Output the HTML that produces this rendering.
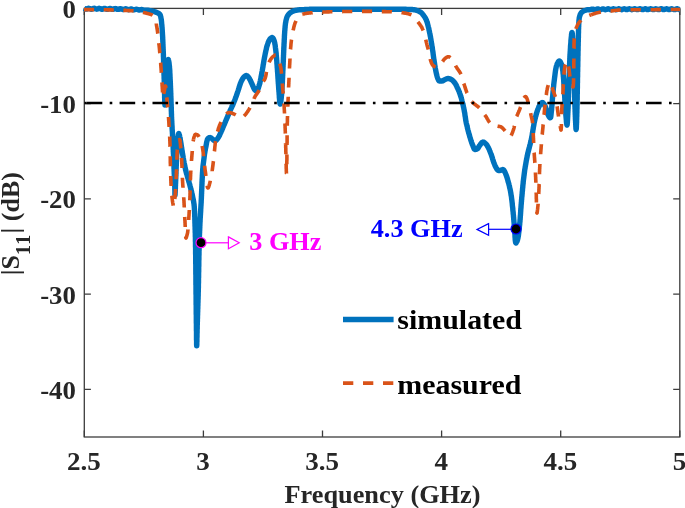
<!DOCTYPE html><html><head><meta charset="utf-8"><title>S11</title><style>html,body{margin:0;padding:0;background:#fff}svg{display:block}</style></head><body><svg width="685" height="508" viewBox="0 0 685 508">
<rect width="685" height="508" fill="#fff"/>
<g stroke="#3c3c3c" stroke-width="1.3" fill="none">
<rect x="84.3" y="8.4" width="595.5" height="428.6"/>
<path d="M84.3 437.0v-6.6M84.3 8.4v6.6"/>
<path d="M203.4 437.0v-6.6M203.4 8.4v6.6"/>
<path d="M322.5 437.0v-6.6M322.5 8.4v6.6"/>
<path d="M441.6 437.0v-6.6M441.6 8.4v6.6"/>
<path d="M560.7 437.0v-6.6M560.7 8.4v6.6"/>
<path d="M679.8 437.0v-6.6M679.8 8.4v6.6"/>
<path d="M84.3 8.4h6.6M679.8 8.4h-6.6"/>
<path d="M84.3 103.6h6.6M679.8 103.6h-6.6"/>
<path d="M84.3 198.9h6.6M679.8 198.9h-6.6"/>
<path d="M84.3 294.1h6.6M679.8 294.1h-6.6"/>
<path d="M84.3 389.4h6.6M679.8 389.4h-6.6"/>
</g>
<g font-family="'Liberation Serif',serif" font-weight="bold" font-size="26" fill="#262626">
<text transform="translate(83.9 470.2) scale(1.04 1)" text-anchor="middle">2.5</text>
<text transform="translate(203.0 470.2) scale(1.04 1)" text-anchor="middle">3</text>
<text transform="translate(322.1 470.2) scale(1.04 1)" text-anchor="middle">3.5</text>
<text transform="translate(441.2 470.2) scale(1.04 1)" text-anchor="middle">4</text>
<text transform="translate(560.3 470.2) scale(1.04 1)" text-anchor="middle">4.5</text>
<text transform="translate(679.4 470.2) scale(1.04 1)" text-anchor="middle">5</text>
<text transform="translate(75.9 17.5) scale(1.032 1)" text-anchor="end">0</text>
<text transform="translate(75.9 113.0) scale(1.032 1)" text-anchor="end">-10</text>
<text transform="translate(75.9 208.3) scale(1.032 1)" text-anchor="end">-20</text>
<text transform="translate(75.9 303.5) scale(1.032 1)" text-anchor="end">-30</text>
<text transform="translate(75.9 398.8) scale(1.032 1)" text-anchor="end">-40</text>
<text transform="translate(382.5 502.6) scale(1.012 1)" text-anchor="middle">Frequency (GHz)</text>
<text transform="translate(18.7 275.3) rotate(-90)">|S<tspan font-size="20" dy="11.3" letter-spacing="1.4">11</tspan><tspan dy="-11.3">| (dB)</tspan></text>
</g>
<path d="M84.0 8.3L84.8 8.7L85.6 9.1L86.4 9.1L87.2 8.8L88.0 8.4L88.8 8.3L89.6 8.5L90.4 8.9L91.2 9.2L92.0 9.1L92.8 8.7L93.6 8.4L94.4 8.3L95.2 8.6L96.0 9.0L96.8 9.2L97.6 9.0L98.4 8.6L99.2 8.3L100.0 8.5L100.8 8.9L101.6 9.2L102.4 9.2L103.2 8.9L104.0 8.5L104.8 8.4L105.6 8.6L106.4 9.1L107.2 9.3L108.0 9.2L108.8 8.8L109.6 8.5L110.4 8.5L111.2 8.9L112.0 9.3L112.8 9.4L113.6 9.1L114.4 8.7L115.2 8.5L116.0 8.7L116.8 9.1L117.6 9.4L118.4 9.4L119.2 9.1L120.0 8.7L120.8 8.7L121.6 9.0L122.4 9.4L123.2 9.6L124.0 9.4L124.8 9.1L125.6 8.8L126.4 8.9L127.2 9.3L128.0 9.6L128.8 9.7L129.6 9.5L130.4 9.1L131.2 8.9L132.0 9.2L132.8 9.6L133.6 9.9L134.4 9.8L135.2 9.5L136.0 9.2L136.8 9.2L137.6 9.5L138.4 9.9L139.2 10.1L140.0 9.9L140.8 9.6L141.6 9.5L142.4 9.6L143.2 10.0L144.0 10.2L144.8 10.2L145.6 10.1L146.4 10.1L147.2 10.2L148.0 10.3L148.8 10.4L149.6 10.6L150.4 10.7L151.1 10.8L151.9 11.0L152.7 11.2L153.5 11.4L154.3 11.6L155.0 11.8L155.8 12.1L156.5 12.4L157.3 12.7L158.0 13.0L158.7 13.4L159.3 13.9L159.9 14.5L160.3 15.2L160.5 15.9L160.7 16.7L160.9 17.5L161.0 18.3L161.2 19.1L161.3 19.9L161.4 20.7L161.5 21.5L161.6 22.3L161.6 23.1L161.7 23.8L161.8 24.6L161.9 25.4L161.9 26.2L162.0 27.0L162.1 27.8L162.1 28.6L162.2 29.4L162.2 30.2L162.3 31.0L162.3 31.8L162.4 32.6L162.4 33.4L162.5 34.2L162.5 35.0L162.6 35.8L162.6 36.6L162.7 37.4L162.7 38.2L162.7 39.0L162.8 39.8L162.8 40.6L162.8 41.4L162.9 42.2L162.9 43.0L162.9 43.8L163.0 44.6L163.0 45.4L163.0 46.2L163.1 47.0L163.1 47.8L163.1 48.6L163.2 49.4L163.2 50.2L163.2 51.0L163.3 51.8L163.3 52.6L163.3 53.4L163.4 54.2L163.4 55.0L163.4 55.8L163.4 56.6L163.5 57.4L163.5 58.2L163.5 59.0L163.6 59.8L163.6 60.6L163.6 61.4L163.6 62.2L163.7 63.0L163.7 63.8L163.7 64.6L163.7 65.4L163.8 66.2L163.8 67.0L163.8 67.8L163.8 68.6L163.9 69.4L163.9 70.2L163.9 71.0L163.9 71.8L164.0 72.6L164.0 73.4L164.0 74.2L164.0 75.0L164.1 75.8L164.1 76.6L164.1 77.4L164.1 78.2L164.2 79.0L164.2 79.8L164.2 80.6L164.2 81.5L164.3 82.4L164.3 83.3L164.3 84.3L164.3 85.3L164.4 86.3L164.4 87.4L164.4 88.4L164.4 89.5L164.5 90.5L164.5 91.6L164.5 92.7L164.5 93.7L164.6 94.7L164.6 95.8L164.6 96.7L164.6 97.7L164.7 98.6L164.7 99.5L164.7 100.3L164.7 101.1L164.8 101.8L164.8 102.5L164.8 103.1L164.8 103.6L164.9 104.0L164.9 104.4L164.9 104.7L165.0 104.9L165.0 105.0L165.0 105.0L165.0 104.9L165.1 104.6L165.1 104.3L165.2 103.8L165.2 103.3L165.2 102.7L165.3 101.9L165.3 101.2L165.3 100.3L165.4 99.4L165.4 98.5L165.5 97.5L165.5 96.5L165.5 95.5L165.6 94.4L165.6 93.3L165.7 92.3L165.7 91.2L165.8 90.2L165.8 89.2L165.8 88.2L165.9 87.2L165.9 86.3L166.0 85.4L166.0 84.6L166.1 83.8L166.1 83.0L166.1 82.2L166.2 81.4L166.2 80.6L166.3 79.8L166.3 79.0L166.3 78.2L166.4 77.4L166.4 76.6L166.4 75.8L166.5 75.0L166.5 74.2L166.6 73.4L166.6 72.6L166.7 71.8L166.7 71.0L166.8 70.2L166.8 69.4L166.9 68.6L166.9 67.8L167.0 67.0L167.1 66.2L167.2 65.4L167.2 64.6L167.3 63.7L167.5 62.6L167.6 61.6L167.8 60.7L168.0 60.0L168.1 59.6L168.3 59.5L168.4 59.9L168.6 60.6L168.8 61.5L169.0 62.5L169.1 63.6L169.2 64.5L169.3 65.3L169.4 66.1L169.5 66.9L169.5 67.7L169.6 68.5L169.7 69.3L169.7 70.1L169.8 70.9L169.8 71.7L169.8 72.5L169.9 73.3L169.9 74.1L170.0 74.9L170.0 75.7L170.0 76.5L170.1 77.3L170.1 78.1L170.1 78.9L170.2 79.7L170.2 80.5L170.3 81.3L170.3 82.1L170.3 82.9L170.4 83.7L170.4 84.5L170.4 85.3L170.5 86.1L170.5 86.9L170.5 87.7L170.6 88.5L170.6 89.3L170.6 90.1L170.7 90.9L170.7 91.7L170.7 92.5L170.8 93.3L170.8 94.1L170.8 94.9L170.8 95.7L170.9 96.5L170.9 97.3L170.9 98.1L171.0 98.9L171.0 99.7L171.0 100.5L171.0 101.3L171.1 102.1L171.1 102.9L171.1 103.7L171.2 104.5L171.2 105.3L171.2 106.1L171.2 106.9L171.3 107.7L171.3 108.5L171.3 109.3L171.3 110.1L171.3 110.9L171.4 111.7L171.4 112.5L171.4 113.3L171.5 114.1L171.5 114.9L171.5 115.7L171.5 116.5L171.6 117.3L171.6 118.1L171.6 118.9L171.7 119.7L171.7 120.5L171.8 121.3L171.8 122.1L171.8 122.9L171.9 123.7L171.9 124.5L172.0 125.3L172.0 126.1L172.1 126.9L172.1 127.7L172.1 128.5L172.2 129.3L172.2 130.1L172.3 130.9L172.3 131.7L172.4 132.5L172.4 133.3L172.5 134.1L172.5 134.9L172.5 135.7L172.6 136.5L172.6 137.3L172.7 138.1L172.7 138.9L172.7 139.7L172.8 140.5L172.8 141.3L172.9 142.1L172.9 142.9L173.0 143.7L173.0 144.5L173.0 145.3L173.1 146.1L173.1 146.9L173.2 147.7L173.2 148.5L173.2 149.3L173.3 150.1L173.3 150.9L173.3 151.7L173.4 152.5L173.4 153.3L173.5 154.1L173.5 154.9L173.5 155.7L173.6 156.5L173.6 157.3L173.6 158.1L173.7 158.9L173.7 159.7L173.7 160.5L173.8 161.3L173.8 162.1L173.8 162.9L173.9 163.7L173.9 164.5L173.9 165.3L174.0 166.1L174.0 166.9L174.0 167.7L174.0 168.5L174.1 169.3L174.1 170.1L174.1 170.9L174.2 171.7L174.2 172.5L174.2 173.3L174.3 174.1L174.3 174.9L174.3 175.7L174.4 176.5L174.4 177.3L174.4 178.1L174.5 178.9L174.5 179.7L174.5 180.5L174.6 181.3L174.6 182.1L174.6 182.9L174.6 183.7L174.7 184.5L174.7 185.3L174.7 186.1L174.8 186.9L174.8 187.7L174.8 188.5L174.8 189.4L174.9 190.5L174.9 191.5L174.9 192.6L174.9 193.5L174.9 194.2L175.0 194.8L175.0 195.0L175.0 194.9L175.1 194.6L175.1 194.1L175.1 193.4L175.2 192.6L175.2 191.7L175.3 190.7L175.3 189.6L175.4 188.6L175.4 187.5L175.4 186.5L175.5 185.6L175.5 184.8L175.5 184.0L175.6 183.2L175.6 182.4L175.6 181.6L175.7 180.8L175.7 180.0L175.7 179.2L175.8 178.4L175.8 177.6L175.8 176.8L175.9 176.0L175.9 175.2L175.9 174.4L176.0 173.6L176.0 172.8L176.0 172.0L176.0 171.2L176.1 170.4L176.1 169.6L176.1 168.8L176.2 168.0L176.2 167.2L176.2 166.4L176.3 165.6L176.3 164.8L176.3 164.0L176.4 163.2L176.4 162.4L176.4 161.6L176.5 160.8L176.5 160.0L176.5 159.2L176.6 158.4L176.6 157.6L176.6 156.8L176.7 156.0L176.7 155.2L176.8 154.4L176.8 153.6L176.8 152.8L176.9 152.0L176.9 151.2L176.9 150.4L177.0 149.6L177.0 148.8L177.1 148.0L177.1 147.2L177.2 146.4L177.2 145.6L177.3 144.8L177.3 144.0L177.4 143.2L177.5 142.4L177.5 141.6L177.6 140.7L177.7 139.7L177.8 138.6L177.9 137.6L178.0 136.5L178.2 135.6L178.3 134.8L178.5 134.2L178.6 133.7L178.8 133.5L178.9 133.6L179.1 134.2L179.4 135.0L179.6 136.0L179.8 137.1L180.0 138.0L180.2 138.7L180.3 139.5L180.4 140.3L180.6 141.1L180.7 141.9L180.8 142.7L181.0 143.5L181.1 144.3L181.2 145.1L181.3 145.8L181.4 146.6L181.6 147.4L181.7 148.2L181.8 149.0L181.9 149.8L182.1 150.6L182.2 151.4L182.3 152.2L182.4 153.0L182.6 153.8L182.7 154.5L182.8 155.3L183.0 156.1L183.1 156.9L183.2 157.7L183.4 158.5L183.5 159.3L183.6 160.1L183.8 160.9L183.9 161.6L184.1 162.4L184.2 163.2L184.4 164.0L184.6 164.8L184.7 165.6L184.9 166.3L185.0 167.1L185.2 167.9L185.4 168.7L185.5 169.5L185.7 170.3L185.9 171.0L186.1 171.8L186.3 172.6L186.5 173.4L186.7 174.1L187.0 174.9L187.2 175.7L187.4 176.4L187.6 177.2L187.9 178.0L188.1 178.7L188.3 179.5L188.5 180.3L188.7 181.1L188.9 181.8L189.2 182.6L189.4 183.4L189.6 184.1L189.8 184.9L190.0 185.7L190.2 186.5L190.4 187.2L190.6 188.0L190.8 188.8L191.0 189.6L191.2 190.3L191.4 191.1L191.6 191.9L191.8 192.7L192.0 193.4L192.1 194.2L192.3 195.0L192.5 195.8L192.6 196.6L192.8 197.4L192.9 198.1L193.1 198.9L193.3 199.7L193.4 200.5L193.6 201.3L193.7 202.1L193.8 202.9L193.9 203.7L194.1 204.5L194.1 205.3L194.2 206.0L194.3 206.8L194.3 207.6L194.4 208.4L194.4 209.2L194.5 210.0L194.5 210.8L194.6 211.6L194.6 212.4L194.6 213.2L194.7 214.0L194.7 214.8L194.7 215.6L194.7 216.4L194.8 217.2L194.8 218.0L194.8 218.8L194.8 219.6L194.9 220.4L194.9 221.2L194.9 222.0L194.9 222.8L195.0 223.6L195.0 224.4L195.0 225.2L195.0 226.0L195.1 226.8L195.1 227.6L195.1 228.4L195.1 229.2L195.2 230.0L195.2 230.8L195.2 231.6L195.2 232.4L195.3 233.2L195.3 234.0L195.3 234.8L195.3 235.6L195.3 236.4L195.4 237.2L195.4 238.0L195.4 238.8L195.4 239.6L195.4 240.4L195.4 241.2L195.5 242.0L195.5 242.8L195.5 243.6L195.5 244.4L195.5 245.2L195.5 246.0L195.5 246.8L195.6 247.6L195.6 248.4L195.6 249.2L195.6 250.0L195.6 250.8L195.6 251.6L195.6 252.4L195.6 253.2L195.6 254.0L195.7 254.8L195.7 255.6L195.7 256.4L195.7 257.2L195.7 258.0L195.7 258.8L195.7 259.6L195.7 260.4L195.7 261.2L195.7 262.0L195.7 262.8L195.7 263.6L195.8 264.4L195.8 265.2L195.8 266.0L195.8 266.8L195.8 267.6L195.8 268.4L195.8 269.2L195.8 270.0L195.8 270.8L195.8 271.6L195.8 272.4L195.8 273.2L195.8 274.0L195.9 274.8L195.9 275.6L195.9 276.4L195.9 277.2L195.9 278.0L195.9 278.8L195.9 279.6L195.9 280.4L195.9 281.2L195.9 282.0L195.9 282.8L195.9 283.6L195.9 284.4L196.0 285.2L196.0 286.0L196.0 286.8L196.0 287.6L196.0 288.4L196.0 289.2L196.0 290.0L196.0 290.8L196.0 291.6L196.0 292.4L196.0 293.2L196.0 294.0L196.1 294.8L196.1 295.6L196.1 296.4L196.1 297.2L196.1 298.0L196.1 298.8L196.1 299.6L196.1 300.4L196.1 301.2L196.1 302.0L196.1 302.8L196.1 303.6L196.1 304.4L196.2 305.2L196.2 306.0L196.2 306.8L196.2 307.6L196.2 308.4L196.2 309.2L196.2 310.0L196.2 310.8L196.2 311.6L196.2 312.4L196.2 313.2L196.2 314.0L196.3 314.8L196.3 315.6L196.3 316.4L196.3 317.2L196.3 318.0L196.3 318.8L196.3 319.6L196.3 320.4L196.3 321.2L196.3 322.0L196.3 322.8L196.4 323.6L196.4 324.4L196.4 325.2L196.4 326.0L196.4 326.8L196.4 327.7L196.4 328.6L196.4 329.5L196.4 330.5L196.5 331.5L196.5 332.5L196.5 333.6L196.5 334.6L196.5 335.7L196.5 336.8L196.5 337.8L196.5 338.8L196.5 339.8L196.6 340.7L196.6 341.6L196.6 342.4L196.6 343.2L196.6 343.8L196.6 344.4L196.6 344.9L196.7 345.3L196.7 345.5L196.7 345.7L196.7 345.7L196.7 345.6L196.7 345.3L196.8 345.0L196.8 344.5L196.8 343.9L196.8 343.3L196.8 342.5L196.9 341.7L196.9 340.8L196.9 339.9L196.9 338.9L196.9 337.9L197.0 336.9L197.0 335.8L197.0 334.8L197.0 333.7L197.1 332.7L197.1 331.6L197.1 330.6L197.1 329.6L197.2 328.7L197.2 327.8L197.2 327.0L197.2 326.2L197.2 325.4L197.3 324.6L197.3 323.8L197.3 323.0L197.3 322.2L197.4 321.4L197.4 320.6L197.4 319.8L197.4 319.0L197.5 318.2L197.5 317.4L197.5 316.6L197.5 315.8L197.6 315.0L197.6 314.2L197.6 313.4L197.6 312.6L197.7 311.8L197.7 311.0L197.7 310.2L197.7 309.4L197.8 308.6L197.8 307.8L197.8 307.0L197.8 306.2L197.9 305.4L197.9 304.6L197.9 303.8L197.9 303.0L198.0 302.2L198.0 301.4L198.0 300.6L198.0 299.8L198.1 299.0L198.1 298.2L198.1 297.4L198.1 296.6L198.2 295.8L198.2 295.0L198.2 294.2L198.2 293.4L198.2 292.6L198.3 291.8L198.3 291.0L198.3 290.2L198.3 289.4L198.3 288.6L198.4 287.8L198.4 287.0L198.4 286.2L198.4 285.4L198.4 284.6L198.4 283.8L198.5 283.0L198.5 282.2L198.5 281.4L198.5 280.6L198.5 279.8L198.5 279.0L198.5 278.2L198.6 277.4L198.6 276.6L198.6 275.8L198.6 275.0L198.6 274.2L198.6 273.4L198.6 272.6L198.7 271.8L198.7 271.0L198.7 270.2L198.7 269.4L198.7 268.6L198.7 267.8L198.7 267.0L198.8 266.2L198.8 265.4L198.8 264.6L198.8 263.8L198.8 263.0L198.8 262.2L198.8 261.4L198.8 260.6L198.9 259.8L198.9 259.0L198.9 258.2L198.9 257.4L198.9 256.6L198.9 255.8L199.0 255.0L199.0 254.2L199.0 253.4L199.0 252.6L199.0 251.8L199.0 251.0L199.1 250.2L199.1 249.4L199.1 248.6L199.1 247.8L199.1 247.0L199.1 246.2L199.2 245.4L199.2 244.6L199.2 243.8L199.2 243.0L199.2 242.2L199.3 241.4L199.3 240.6L199.3 239.8L199.3 239.0L199.4 238.2L199.4 237.4L199.4 236.6L199.4 235.8L199.5 235.0L199.5 234.2L199.5 233.4L199.6 232.6L199.6 231.8L199.6 231.0L199.7 230.2L199.7 229.4L199.7 228.6L199.8 227.8L199.8 227.0L199.8 226.2L199.9 225.4L199.9 224.6L199.9 223.8L200.0 223.0L200.0 222.2L200.1 221.4L200.1 220.6L200.1 219.8L200.2 219.0L200.2 218.2L200.3 217.4L200.3 216.6L200.4 215.8L200.4 215.0L200.5 214.2L200.5 213.4L200.6 212.6L200.6 211.8L200.7 211.0L200.7 210.2L200.7 209.4L200.8 208.6L200.8 207.8L200.9 207.0L200.9 206.2L201.0 205.4L201.0 204.6L201.1 203.8L201.1 203.0L201.2 202.2L201.2 201.4L201.2 200.6L201.3 199.8L201.3 199.0L201.4 198.2L201.4 197.4L201.4 196.6L201.5 195.8L201.5 195.0L201.5 194.2L201.6 193.4L201.6 192.6L201.6 191.8L201.7 191.0L201.7 190.2L201.7 189.4L201.8 188.6L201.8 187.8L201.8 187.0L201.9 186.2L201.9 185.4L201.9 184.6L202.0 183.8L202.0 183.0L202.0 182.2L202.1 181.4L202.1 180.6L202.1 179.8L202.2 179.0L202.2 178.2L202.3 177.4L202.3 176.6L202.3 175.8L202.4 175.0L202.4 174.2L202.5 173.4L202.5 172.6L202.6 171.8L202.6 171.0L202.7 170.2L202.7 169.4L202.8 168.6L202.9 167.8L202.9 167.0L203.0 166.2L203.1 165.4L203.2 164.6L203.3 163.8L203.4 163.1L203.5 162.3L203.6 161.5L203.7 160.7L203.8 159.9L203.9 159.1L204.0 158.3L204.1 157.5L204.2 156.7L204.3 155.9L204.4 155.1L204.5 154.3L204.6 153.5L204.8 152.7L204.9 151.9L205.0 151.2L205.2 150.4L205.3 149.6L205.4 148.8L205.6 148.0L205.8 147.2L205.9 146.4L206.1 145.7L206.2 144.8L206.4 144.0L206.5 143.1L206.7 142.2L206.9 141.4L207.1 140.6L207.3 139.8L207.6 139.2L207.9 138.6L208.4 138.1L209.2 137.7L210.0 137.5L210.6 137.7L211.3 138.1L212.0 138.6L212.6 139.2L213.3 139.7L213.9 140.4L214.6 140.9L215.2 141.0L215.8 140.7L216.4 140.1L217.0 139.4L217.5 138.7L218.0 138.0L218.4 137.3L218.8 136.7L219.2 136.0L219.6 135.2L219.9 134.5L220.2 133.8L220.5 133.0L220.9 132.3L221.2 131.5L221.5 130.8L221.9 130.1L222.2 129.3L222.5 128.6L222.8 127.9L223.1 127.1L223.4 126.4L223.7 125.7L224.0 124.9L224.4 124.2L224.7 123.4L225.0 122.7L225.3 122.0L225.6 121.2L225.9 120.5L226.2 119.8L226.6 119.0L226.9 118.3L227.2 117.6L227.5 116.8L227.8 116.1L228.1 115.4L228.4 114.6L228.8 113.9L229.1 113.1L229.4 112.4L229.7 111.7L230.0 110.9L230.3 110.2L230.7 109.5L231.0 108.8L231.3 108.0L231.7 107.3L232.0 106.6L232.3 105.8L232.7 105.1L233.0 104.4L233.3 103.6L233.6 102.9L233.9 102.2L234.2 101.4L234.5 100.7L234.8 99.9L235.1 99.2L235.4 98.4L235.6 97.7L235.9 96.9L236.2 96.2L236.5 95.4L236.7 94.7L237.0 93.9L237.2 93.2L237.5 92.4L237.8 91.6L238.0 90.9L238.3 90.1L238.5 89.4L238.8 88.6L239.0 87.8L239.2 87.1L239.5 86.3L239.7 85.5L240.0 84.7L240.2 84.0L240.5 83.2L240.8 82.5L241.1 81.8L241.4 81.1L241.8 80.3L242.2 79.6L242.6 78.9L243.0 78.2L243.5 77.6L244.0 77.0L244.6 76.4L245.3 75.9L246.0 75.5L246.7 75.6L247.3 76.0L247.9 76.6L248.5 77.3L249.0 78.0L249.4 78.6L249.8 79.3L250.2 80.0L250.5 80.7L250.9 81.5L251.2 82.2L251.5 83.0L251.9 83.7L252.2 84.4L252.5 85.2L252.9 86.0L253.2 86.7L253.5 87.5L253.8 88.2L254.2 88.9L254.6 89.6L255.1 90.1L255.8 90.7L256.5 91.0L256.9 90.8L257.4 90.3L257.8 89.6L258.1 88.7L258.4 87.8L258.7 86.9L259.0 86.0L259.2 85.3L259.4 84.5L259.7 83.8L259.9 83.0L260.0 82.2L260.2 81.4L260.4 80.7L260.5 79.9L260.7 79.1L260.9 78.3L261.0 77.5L261.1 76.7L261.3 75.9L261.4 75.1L261.6 74.3L261.7 73.5L261.9 72.7L262.0 71.9L262.2 71.2L262.3 70.4L262.4 69.6L262.6 68.8L262.7 68.0L262.9 67.2L263.0 66.4L263.1 65.6L263.2 64.8L263.4 64.1L263.5 63.3L263.6 62.5L263.8 61.7L263.9 60.9L264.0 60.1L264.2 59.3L264.3 58.5L264.5 57.7L264.6 57.0L264.8 56.2L264.9 55.4L265.1 54.6L265.2 53.8L265.4 53.0L265.6 52.2L265.7 51.5L265.9 50.7L266.1 49.9L266.3 49.1L266.4 48.3L266.6 47.5L266.8 46.7L267.0 46.0L267.3 45.2L267.5 44.5L267.7 43.7L268.0 43.0L268.3 42.2L268.6 41.5L269.0 40.7L269.4 40.0L269.8 39.3L270.3 38.7L270.9 38.1L271.6 37.6L272.2 37.5L272.9 38.1L273.4 38.8L273.7 39.5L274.0 40.2L274.2 40.9L274.4 41.6L274.6 42.4L274.8 43.2L274.9 44.1L275.1 44.9L275.2 45.7L275.3 46.5L275.4 47.4L275.5 48.1L275.6 48.9L275.7 49.7L275.8 50.5L275.9 51.3L276.0 52.1L276.1 52.9L276.2 53.7L276.2 54.5L276.3 55.3L276.4 56.1L276.4 56.9L276.5 57.7L276.6 58.5L276.6 59.3L276.7 60.1L276.8 60.9L276.8 61.7L276.9 62.5L276.9 63.3L277.0 64.1L277.1 64.9L277.1 65.7L277.2 66.5L277.2 67.3L277.3 68.1L277.4 68.9L277.4 69.7L277.5 70.5L277.5 71.3L277.6 72.1L277.7 72.9L277.7 73.7L277.8 74.5L277.8 75.3L277.9 76.1L277.9 76.9L278.0 77.7L278.0 78.4L278.1 79.2L278.1 80.0L278.2 80.8L278.2 81.6L278.3 82.4L278.3 83.2L278.4 84.0L278.5 84.8L278.5 85.6L278.6 86.4L278.6 87.2L278.7 88.0L278.7 88.8L278.8 89.6L278.9 90.4L278.9 91.2L279.0 92.0L279.1 92.9L279.1 93.8L279.2 94.8L279.3 95.8L279.3 96.9L279.4 97.9L279.5 99.0L279.6 100.0L279.6 100.9L279.7 101.8L279.8 102.5L279.9 103.1L280.0 103.6L280.1 103.9L280.2 104.0L280.3 103.7L280.5 103.1L280.7 102.1L280.9 101.1L281.0 100.1L281.1 99.3L281.2 98.5L281.3 97.7L281.3 96.9L281.4 96.1L281.5 95.3L281.6 94.6L281.6 93.8L281.7 93.0L281.7 92.2L281.8 91.4L281.8 90.6L281.9 89.8L281.9 89.0L282.0 88.2L282.0 87.4L282.1 86.6L282.1 85.8L282.2 85.0L282.2 84.2L282.3 83.4L282.3 82.6L282.4 81.8L282.4 81.0L282.4 80.2L282.5 79.4L282.5 78.6L282.6 77.8L282.6 77.0L282.6 76.2L282.7 75.4L282.7 74.6L282.7 73.8L282.8 73.0L282.8 72.2L282.8 71.4L282.9 70.6L282.9 69.8L283.0 69.0L283.0 68.2L283.0 67.4L283.1 66.6L283.1 65.8L283.1 65.0L283.2 64.2L283.2 63.4L283.2 62.6L283.3 61.8L283.3 61.0L283.3 60.2L283.4 59.4L283.4 58.6L283.4 57.8L283.5 57.0L283.5 56.2L283.5 55.4L283.6 54.6L283.6 53.8L283.6 53.0L283.7 52.2L283.7 51.4L283.7 50.6L283.8 49.8L283.8 49.0L283.8 48.2L283.9 47.4L283.9 46.6L284.0 45.8L284.0 45.0L284.0 44.2L284.1 43.4L284.1 42.6L284.2 41.8L284.2 41.0L284.2 40.2L284.3 39.4L284.3 38.6L284.4 37.8L284.4 37.0L284.4 36.2L284.5 35.4L284.5 34.6L284.6 33.8L284.6 33.0L284.7 32.2L284.7 31.4L284.8 30.6L284.9 29.8L284.9 29.0L285.0 28.2L285.1 27.4L285.1 26.6L285.2 25.8L285.3 25.0L285.4 24.2L285.5 23.4L285.6 22.6L285.8 21.8L285.9 21.0L286.1 20.2L286.3 19.4L286.5 18.6L286.7 17.9L286.9 17.2L287.2 16.5L287.6 15.8L288.1 15.1L288.6 14.4L289.1 13.8L289.7 13.2L290.3 12.8L290.9 12.3L291.6 11.9L292.3 11.5L293.1 11.1L293.9 10.8L294.6 10.6L295.4 10.4L296.2 10.3L297.0 10.1L297.8 10.0L298.6 9.9L299.4 9.8L300.2 9.8L301.0 9.7L301.8 9.7L302.6 9.6L303.4 9.6L304.1 9.6L304.9 9.5L305.7 9.5L306.6 9.4L307.4 9.4L308.2 9.4L309.0 9.4L309.8 9.3L310.6 9.3L311.4 9.3L312.2 9.3L313.0 9.3L313.8 9.3L314.6 9.3L315.4 9.3L316.2 9.3L317.0 9.3L317.8 9.3L318.6 9.3L319.4 9.3L320.2 9.3L321.0 9.3L321.8 9.3L322.6 9.3L323.4 9.3L324.2 9.3L325.0 9.3L325.8 9.3L326.6 9.3L327.4 9.3L328.2 9.3L329.0 9.3L329.8 9.3L330.6 9.3L331.4 9.3L332.2 9.3L333.0 9.3L333.8 9.3L334.6 9.3L335.4 9.3L336.2 9.3L337.0 9.3L337.8 9.3L338.6 9.3L339.4 9.3L340.2 9.3L341.0 9.3L341.8 9.3L342.6 9.3L343.4 9.3L344.2 9.3L345.0 9.3L345.8 9.3L346.6 9.3L347.4 9.3L348.2 9.3L349.0 9.3L349.8 9.3L350.6 9.3L351.4 9.3L352.2 9.3L353.0 9.3L353.8 9.3L354.6 9.3L355.4 9.3L356.2 9.3L357.0 9.3L357.8 9.3L358.6 9.3L359.4 9.3L360.2 9.3L361.0 9.3L361.8 9.3L362.6 9.3L363.4 9.3L364.2 9.3L365.0 9.3L365.8 9.3L366.6 9.3L367.4 9.3L368.2 9.3L369.0 9.3L369.8 9.3L370.6 9.3L371.4 9.3L372.2 9.3L373.0 9.3L373.8 9.3L374.6 9.3L375.4 9.3L376.2 9.3L377.0 9.3L377.8 9.3L378.6 9.3L379.4 9.3L380.2 9.3L381.0 9.3L381.8 9.3L382.6 9.3L383.4 9.3L384.2 9.3L385.0 9.3L385.8 9.3L386.6 9.3L387.4 9.3L388.2 9.3L389.0 9.3L389.8 9.3L390.6 9.3L391.4 9.3L392.2 9.3L393.0 9.3L393.8 9.3L394.6 9.3L395.4 9.3L396.2 9.3L397.0 9.3L397.8 9.3L398.6 9.3L399.4 9.3L400.2 9.3L401.0 9.3L401.8 9.3L402.6 9.3L403.4 9.3L404.2 9.3L405.0 9.3L405.8 9.3L406.6 9.4L407.4 9.4L408.2 9.4L409.0 9.4L409.8 9.4L410.6 9.5L411.4 9.5L412.2 9.5L413.0 9.6L413.8 9.7L414.6 9.9L415.4 10.0L416.1 10.2L416.9 10.5L417.6 10.7L418.4 11.0L419.1 11.4L419.9 11.8L420.5 12.2L421.2 12.6L421.7 13.1L422.3 13.7L422.8 14.4L423.3 15.0L423.8 15.7L424.2 16.3L424.7 17.0L425.1 17.7L425.5 18.4L425.9 19.1L426.2 19.8L426.5 20.6L426.8 21.3L427.0 22.0L427.3 22.8L427.5 23.6L427.7 24.3L427.9 25.1L428.1 25.9L428.3 26.7L428.5 27.4L428.7 28.2L428.9 29.0L429.0 29.8L429.2 30.6L429.4 31.4L429.5 32.2L429.7 33.0L429.9 33.7L430.0 34.5L430.2 35.3L430.3 36.1L430.5 36.9L430.6 37.7L430.7 38.5L430.9 39.2L431.0 40.0L431.1 40.8L431.3 41.6L431.4 42.4L431.5 43.2L431.7 44.0L431.8 44.8L431.9 45.6L432.0 46.4L432.2 47.1L432.3 47.9L432.4 48.7L432.5 49.5L432.6 50.3L432.8 51.1L432.9 51.9L433.0 52.7L433.1 53.5L433.2 54.3L433.3 55.1L433.4 55.9L433.5 56.7L433.6 57.4L433.7 58.2L433.8 59.0L434.0 59.8L434.1 60.6L434.2 61.4L434.3 62.2L434.5 63.0L434.6 63.8L434.7 64.6L434.8 65.4L435.0 66.2L435.1 66.9L435.2 67.7L435.4 68.5L435.5 69.3L435.7 70.1L435.8 70.9L436.0 71.7L436.1 72.4L436.3 73.2L436.5 74.0L436.7 74.8L436.9 75.6L437.1 76.4L437.3 77.1L437.6 77.9L437.8 78.6L438.2 79.4L438.6 80.2L439.1 80.9L439.7 81.0L440.5 81.0L441.4 81.0L442.2 81.0L442.9 80.8L443.6 80.3L444.3 79.9L445.0 79.5L445.8 79.2L446.5 78.8L447.3 78.6L448.1 78.5L448.9 78.6L449.7 78.8L450.4 79.1L451.1 79.4L451.8 79.7L452.4 80.2L453.0 80.8L453.6 81.4L454.1 82.1L454.6 82.7L455.1 83.3L455.5 84.0L455.9 84.7L456.3 85.4L456.6 86.1L457.0 86.9L457.3 87.6L457.7 88.3L458.0 89.1L458.3 89.8L458.6 90.5L459.0 91.3L459.3 92.0L459.5 92.7L459.8 93.5L460.1 94.2L460.3 95.0L460.6 95.8L460.8 96.5L461.1 97.3L461.3 98.1L461.5 98.8L461.7 99.6L461.9 100.4L462.1 101.2L462.3 101.9L462.5 102.7L462.7 103.5L462.9 104.3L463.1 105.0L463.3 105.8L463.4 106.6L463.6 107.4L463.8 108.2L463.9 109.0L464.1 109.7L464.2 110.5L464.4 111.3L464.5 112.1L464.7 112.9L464.8 113.7L464.9 114.5L465.0 115.3L465.1 116.1L465.3 116.8L465.4 117.6L465.5 118.4L465.6 119.2L465.7 120.0L465.9 120.8L466.0 121.6L466.2 122.4L466.3 123.2L466.5 123.9L466.7 124.7L466.9 125.5L467.1 126.3L467.3 127.0L467.4 127.8L467.6 128.6L467.8 129.4L468.0 130.2L468.2 130.9L468.4 131.7L468.6 132.5L468.8 133.3L469.1 134.0L469.3 134.8L469.5 135.6L469.7 136.3L469.9 137.1L470.2 137.9L470.4 138.6L470.6 139.4L470.9 140.2L471.1 140.9L471.4 141.7L471.6 142.5L471.9 143.2L472.2 144.0L472.4 144.7L472.8 145.4L473.1 146.2L473.4 147.0L473.8 148.0L474.1 148.8L474.6 149.3L475.1 149.5L475.9 149.4L476.7 149.1L477.4 148.8L477.9 148.3L478.3 147.6L478.8 146.9L479.2 146.1L479.7 145.4L480.2 144.8L480.7 144.0L481.3 143.3L481.9 142.6L482.4 142.2L483.0 142.0L483.7 142.2L484.4 142.6L485.1 143.2L485.8 143.8L486.3 144.3L486.8 144.9L487.2 145.6L487.6 146.3L488.0 147.0L488.4 147.8L488.7 148.5L489.1 149.2L489.4 149.9L489.7 150.7L490.0 151.4L490.3 152.2L490.6 152.9L490.9 153.7L491.2 154.4L491.4 155.2L491.7 155.9L491.9 156.7L492.2 157.4L492.4 158.2L492.6 159.0L492.9 159.7L493.1 160.5L493.4 161.3L493.6 162.0L493.9 162.8L494.2 163.5L494.5 164.3L494.8 165.0L495.1 165.8L495.5 166.5L495.8 167.2L496.2 167.9L496.7 168.7L497.2 169.5L497.7 170.1L498.3 170.5L499.0 170.5L499.8 170.5L500.6 170.4L501.4 170.0L502.2 169.7L502.8 169.5L503.4 169.7L503.9 170.3L504.4 171.1L504.8 172.0L505.2 172.8L505.5 173.5L505.8 174.2L506.1 174.9L506.4 175.7L506.7 176.5L506.9 177.2L507.2 178.0L507.4 178.8L507.6 179.6L507.8 180.3L508.0 181.1L508.2 181.9L508.5 182.6L508.7 183.4L508.9 184.2L509.1 185.0L509.3 185.7L509.5 186.5L509.6 187.3L509.8 188.1L510.0 188.9L510.2 189.7L510.3 190.4L510.5 191.2L510.6 192.0L510.8 192.8L510.9 193.6L511.0 194.4L511.1 195.2L511.3 196.0L511.4 196.7L511.5 197.5L511.6 198.3L511.7 199.1L511.8 199.9L511.9 200.7L512.0 201.5L512.1 202.3L512.2 203.1L512.3 203.9L512.3 204.7L512.4 205.5L512.5 206.3L512.6 207.1L512.7 207.9L512.8 208.7L512.8 209.5L512.9 210.3L513.0 211.1L513.1 211.9L513.2 212.7L513.2 213.5L513.3 214.2L513.4 215.0L513.5 215.8L513.5 216.6L513.6 217.4L513.7 218.2L513.7 219.0L513.8 219.8L513.9 220.6L513.9 221.4L514.0 222.2L514.1 223.0L514.1 223.8L514.2 224.6L514.3 225.4L514.3 226.2L514.4 227.0L514.5 227.8L514.6 228.6L514.6 229.5L514.7 230.5L514.7 231.5L514.8 232.5L514.9 233.6L514.9 234.6L515.0 235.7L515.0 236.7L515.1 237.7L515.2 238.7L515.2 239.6L515.3 240.4L515.4 241.1L515.5 241.7L515.6 242.3L515.7 242.7L515.8 242.9L516.0 243.0L516.2 242.7L516.6 242.0L517.1 241.1L517.4 240.2L517.6 239.5L517.8 238.7L518.0 237.9L518.1 237.2L518.3 236.4L518.4 235.6L518.5 234.8L518.6 234.0L518.7 233.2L518.8 232.4L518.9 231.6L519.0 230.8L519.1 230.0L519.2 229.2L519.3 228.4L519.3 227.6L519.4 226.8L519.5 226.0L519.6 225.2L519.7 224.4L519.7 223.6L519.8 222.8L519.9 222.0L520.0 221.2L520.0 220.4L520.1 219.6L520.2 218.8L520.2 218.0L520.3 217.2L520.3 216.4L520.4 215.6L520.5 214.8L520.5 214.0L520.6 213.2L520.6 212.4L520.7 211.6L520.7 210.8L520.8 210.0L520.8 209.2L520.9 208.4L521.0 207.6L521.0 206.8L521.1 206.0L521.1 205.2L521.2 204.4L521.3 203.6L521.3 202.8L521.4 202.0L521.5 201.2L521.5 200.4L521.6 199.6L521.7 198.8L521.7 198.0L521.8 197.2L521.9 196.4L522.0 195.6L522.0 194.8L522.1 194.1L522.2 193.3L522.2 192.5L522.3 191.7L522.4 190.9L522.5 190.1L522.5 189.3L522.6 188.5L522.7 187.7L522.8 186.9L522.8 186.1L522.9 185.3L523.0 184.5L523.1 183.7L523.2 182.9L523.2 182.1L523.3 181.3L523.4 180.5L523.5 179.7L523.6 178.9L523.7 178.1L523.8 177.3L523.9 176.5L524.0 175.7L524.1 175.0L524.2 174.2L524.3 173.4L524.4 172.6L524.5 171.8L524.6 171.0L524.7 170.2L524.8 169.4L525.0 168.6L525.1 167.8L525.2 167.0L525.4 166.2L525.5 165.5L525.6 164.7L525.8 163.9L525.9 163.1L526.0 162.3L526.2 161.5L526.3 160.7L526.5 159.9L526.6 159.1L526.8 158.4L526.9 157.6L527.1 156.8L527.2 156.0L527.4 155.2L527.6 154.4L527.7 153.7L527.9 152.9L528.1 152.1L528.3 151.3L528.5 150.5L528.7 149.8L528.9 149.0L529.1 148.2L529.3 147.5L529.5 146.7L529.7 145.9L529.9 145.1L530.1 144.4L530.3 143.6L530.5 142.8L530.7 142.0L530.9 141.3L531.1 140.5L531.3 139.7L531.4 138.9L531.6 138.1L531.7 137.3L531.9 136.6L532.0 135.8L532.2 135.0L532.3 134.2L532.4 133.4L532.5 132.6L532.7 131.8L532.8 131.0L532.9 130.2L533.1 129.4L533.2 128.6L533.3 127.9L533.4 127.1L533.6 126.3L533.7 125.5L533.9 124.7L534.0 123.9L534.1 123.1L534.3 122.3L534.5 121.6L534.6 120.8L534.8 120.0L535.0 119.2L535.2 118.4L535.4 117.7L535.5 116.9L535.8 116.1L536.0 115.3L536.2 114.6L536.4 113.8L536.6 113.0L536.9 112.2L537.1 111.5L537.4 110.7L537.6 110.0L537.9 109.2L538.2 108.5L538.5 107.7L538.8 107.0L539.2 106.2L539.5 105.5L539.9 104.8L540.4 104.2L540.9 103.5L541.5 102.9L542.1 102.5L542.8 102.7L543.4 103.3L544.0 104.0L544.4 104.6L544.7 105.3L545.1 106.0L545.4 106.7L545.6 107.5L545.9 108.3L546.2 109.1L546.4 109.9L546.7 110.6L547.0 111.4L547.3 112.1L547.5 112.9L547.8 113.7L548.0 114.5L548.3 115.2L548.7 115.9L549.0 116.6L549.6 117.4L550.2 117.9L550.4 117.9L550.6 117.5L550.8 116.8L550.9 115.9L551.0 114.9L551.1 113.9L551.2 112.9L551.3 112.0L551.4 111.2L551.5 110.4L551.6 109.6L551.6 108.8L551.7 108.0L551.8 107.2L551.8 106.4L551.9 105.6L552.0 104.8L552.0 104.0L552.1 103.2L552.1 102.4L552.2 101.6L552.3 100.8L552.3 100.0L552.4 99.2L552.5 98.4L552.5 97.6L552.6 96.8L552.7 96.0L552.8 95.2L552.8 94.4L552.9 93.6L553.0 92.8L553.0 92.1L553.1 91.3L553.2 90.5L553.3 89.7L553.3 88.9L553.4 88.1L553.5 87.3L553.6 86.5L553.7 85.7L553.7 84.9L553.8 84.1L553.9 83.3L554.0 82.5L554.1 81.7L554.2 80.9L554.3 80.1L554.4 79.3L554.5 78.5L554.6 77.7L554.7 76.9L554.8 76.1L554.9 75.3L555.0 74.5L555.1 73.7L555.2 72.9L555.3 72.1L555.4 71.3L555.5 70.5L555.7 69.7L555.8 68.9L556.0 68.1L556.1 67.4L556.3 66.6L556.5 65.9L556.8 65.1L557.1 64.1L557.5 63.2L558.0 62.4L558.4 61.7L558.9 61.2L559.3 61.0L559.7 61.2L560.2 61.7L560.6 62.4L561.0 63.2L561.4 64.2L561.8 65.1L562.0 65.9L562.1 66.7L562.3 67.4L562.4 68.2L562.5 68.9L562.6 69.7L562.8 70.5L562.9 71.3L563.0 72.1L563.0 72.9L563.1 73.7L563.2 74.5L563.3 75.3L563.3 76.1L563.4 76.9L563.5 77.7L563.5 78.5L563.6 79.3L563.7 80.2L563.7 81.0L563.8 81.8L563.8 82.6L563.9 83.4L563.9 84.2L564.0 85.0L564.1 85.8L564.1 86.6L564.2 87.4L564.2 88.2L564.3 89.0L564.3 89.8L564.4 90.6L564.4 91.4L564.5 92.2L564.5 93.0L564.6 93.8L564.6 94.6L564.6 95.4L564.7 96.2L564.7 97.0L564.8 97.8L564.8 98.6L564.8 99.4L564.9 100.2L564.9 101.0L565.0 101.8L565.0 102.6L565.1 103.4L565.1 104.2L565.2 105.0L565.2 105.8L565.3 106.6L565.3 107.4L565.4 108.2L565.4 109.0L565.5 109.8L565.5 110.6L565.6 111.5L565.7 112.4L565.8 113.4L565.8 114.5L565.9 115.5L566.0 116.6L566.1 117.6L566.2 118.7L566.3 119.7L566.4 120.6L566.4 121.5L566.5 122.3L566.6 123.1L566.7 123.7L566.8 124.2L566.9 124.6L566.9 124.9L567.0 125.0L567.1 124.9L567.1 124.7L567.2 124.4L567.2 123.9L567.3 123.2L567.4 122.5L567.4 121.7L567.5 120.8L567.5 119.9L567.6 118.9L567.6 117.9L567.7 116.8L567.7 115.7L567.8 114.7L567.8 113.6L567.9 112.6L567.9 111.7L568.0 110.8L568.0 109.9L568.0 109.1L568.1 108.3L568.1 107.5L568.1 106.7L568.2 105.9L568.2 105.1L568.2 104.3L568.3 103.5L568.3 102.7L568.3 101.9L568.3 101.1L568.4 100.3L568.4 99.5L568.4 98.7L568.4 97.9L568.5 97.1L568.5 96.3L568.5 95.5L568.5 94.7L568.6 93.9L568.6 93.1L568.6 92.3L568.6 91.5L568.7 90.7L568.7 89.9L568.7 89.1L568.7 88.3L568.7 87.5L568.8 86.7L568.8 85.9L568.8 85.1L568.8 84.3L568.9 83.5L568.9 82.7L568.9 81.9L569.0 81.1L569.0 80.3L569.0 79.5L569.0 78.7L569.1 77.9L569.1 77.1L569.1 76.3L569.2 75.5L569.2 74.7L569.2 73.9L569.3 73.1L569.3 72.3L569.3 71.5L569.3 70.7L569.4 69.9L569.4 69.1L569.4 68.3L569.5 67.5L569.5 66.7L569.5 65.9L569.6 65.1L569.6 64.3L569.6 63.5L569.7 62.7L569.7 61.9L569.7 61.1L569.8 60.3L569.8 59.5L569.8 58.7L569.9 57.9L569.9 57.1L569.9 56.3L570.0 55.5L570.0 54.7L570.1 54.0L570.1 53.2L570.2 52.4L570.2 51.6L570.3 50.8L570.3 50.0L570.4 49.1L570.4 48.2L570.5 47.3L570.5 46.3L570.6 45.3L570.7 44.2L570.8 43.2L570.9 42.1L570.9 41.0L571.0 40.0L571.1 39.0L571.2 38.0L571.3 37.1L571.4 36.2L571.5 35.4L571.5 34.7L571.6 34.1L571.7 33.5L571.8 33.1L571.9 32.8L571.9 32.6L572.0 32.5L572.1 32.6L572.1 32.8L572.2 33.1L572.3 33.6L572.3 34.2L572.4 34.8L572.5 35.6L572.6 36.4L572.6 37.3L572.7 38.2L572.7 39.2L572.8 40.2L572.9 41.2L572.9 42.3L573.0 43.4L573.0 44.4L573.1 45.5L573.1 46.5L573.2 47.5L573.2 48.4L573.3 49.3L573.3 50.1L573.3 50.9L573.4 51.7L573.4 52.5L573.4 53.3L573.5 54.1L573.5 54.9L573.5 55.7L573.5 56.5L573.6 57.3L573.6 58.1L573.6 58.9L573.6 59.7L573.7 60.5L573.7 61.3L573.7 62.1L573.7 62.9L573.8 63.7L573.8 64.5L573.8 65.3L573.8 66.1L573.8 66.9L573.9 67.7L573.9 68.5L573.9 69.3L573.9 70.1L573.9 70.9L574.0 71.7L574.0 72.5L574.0 73.3L574.0 74.1L574.0 74.9L574.0 75.7L574.1 76.5L574.1 77.3L574.1 78.1L574.1 78.9L574.1 79.7L574.2 80.5L574.2 81.3L574.2 82.1L574.2 82.9L574.3 83.7L574.3 84.5L574.3 85.3L574.3 86.1L574.4 86.9L574.4 87.7L574.4 88.5L574.4 89.3L574.5 90.1L574.5 90.9L574.5 91.7L574.5 92.5L574.6 93.3L574.6 94.1L574.6 94.9L574.6 95.7L574.6 96.5L574.7 97.3L574.7 98.1L574.7 98.9L574.7 99.7L574.8 100.5L574.8 101.3L574.8 102.1L574.8 102.9L574.9 103.7L574.9 104.5L574.9 105.3L574.9 106.1L575.0 106.9L575.0 107.7L575.0 108.5L575.1 109.3L575.1 110.1L575.1 110.9L575.1 111.7L575.2 112.5L575.2 113.3L575.2 114.1L575.3 114.9L575.3 115.7L575.3 116.5L575.4 117.3L575.4 118.1L575.4 118.9L575.5 119.7L575.5 120.5L575.6 121.5L575.6 122.5L575.7 123.5L575.7 124.6L575.8 125.6L575.8 126.6L575.9 127.5L575.9 128.3L576.0 128.9L576.0 129.3L576.1 129.5L576.1 129.5L576.2 129.2L576.2 128.9L576.3 128.4L576.3 127.8L576.4 127.1L576.4 126.2L576.4 125.4L576.5 124.4L576.5 123.4L576.6 122.4L576.6 121.3L576.6 120.2L576.7 119.2L576.7 118.1L576.7 117.1L576.8 116.2L576.8 115.3L576.8 114.5L576.8 113.7L576.9 112.9L576.9 112.1L576.9 111.3L576.9 110.5L576.9 109.7L577.0 108.9L577.0 108.1L577.0 107.3L577.0 106.5L577.0 105.7L577.1 104.9L577.1 104.1L577.1 103.3L577.1 102.5L577.1 101.7L577.1 100.9L577.1 100.1L577.2 99.3L577.2 98.5L577.2 97.7L577.2 96.9L577.2 96.1L577.2 95.3L577.2 94.5L577.3 93.7L577.3 92.9L577.3 92.1L577.3 91.3L577.3 90.5L577.3 89.7L577.3 88.9L577.4 88.1L577.4 87.3L577.4 86.5L577.4 85.7L577.4 84.9L577.4 84.1L577.4 83.3L577.5 82.5L577.5 81.7L577.5 80.9L577.5 80.1L577.5 79.3L577.5 78.5L577.5 77.7L577.6 76.9L577.6 76.1L577.6 75.3L577.6 74.5L577.6 73.7L577.6 72.9L577.6 72.1L577.7 71.3L577.7 70.5L577.7 69.7L577.7 68.9L577.7 68.1L577.7 67.3L577.8 66.5L577.8 65.7L577.8 64.9L577.8 64.1L577.8 63.3L577.8 62.5L577.8 61.7L577.9 60.9L577.9 60.1L577.9 59.3L577.9 58.5L577.9 57.7L577.9 56.9L577.9 56.1L578.0 55.3L578.0 54.5L578.0 53.7L578.0 52.9L578.0 52.1L578.0 51.3L578.1 50.5L578.1 49.7L578.1 48.9L578.1 48.1L578.1 47.3L578.1 46.5L578.2 45.7L578.2 44.9L578.2 44.1L578.2 43.3L578.2 42.5L578.3 41.7L578.3 40.9L578.3 40.1L578.3 39.3L578.3 38.5L578.4 37.7L578.4 36.9L578.4 36.1L578.4 35.3L578.4 34.5L578.4 33.7L578.5 32.9L578.5 32.1L578.5 31.3L578.5 30.5L578.5 29.7L578.6 28.9L578.6 28.1L578.6 27.3L578.7 26.5L578.7 25.7L578.7 24.9L578.8 24.1L578.8 23.3L578.8 22.5L578.9 21.7L578.9 20.9L579.0 20.1L579.1 19.3L579.2 18.5L579.3 17.7L579.5 16.9L579.7 16.1L580.0 15.3L580.2 14.6L580.5 13.9L580.9 13.3L581.4 12.6L582.1 12.0L582.7 11.5L583.4 11.1L584.0 10.8L584.8 10.5L585.5 10.3L586.3 10.0L587.1 9.8L587.9 9.7L588.8 9.7L589.6 9.7L590.4 9.6L591.2 9.4L592.0 9.1L592.8 9.1L593.6 9.4L594.4 9.7L595.2 9.8L596.0 9.5L596.8 9.1L597.6 8.9L598.4 9.0L599.2 9.5L600.0 9.7L600.8 9.7L601.6 9.3L602.4 8.9L603.2 8.9L604.0 9.2L604.8 9.6L605.6 9.7L606.4 9.5L607.2 9.1L608.0 8.8L608.8 8.9L609.6 9.3L610.4 9.6L611.2 9.7L612.0 9.3L612.8 8.9L613.6 8.8L614.4 9.0L615.2 9.4L616.0 9.7L616.8 9.6L617.6 9.2L618.4 8.8L619.2 8.8L620.0 9.2L620.8 9.5L621.6 9.7L622.4 9.4L623.2 9.0L624.0 8.8L624.8 8.9L625.6 9.3L626.4 9.6L627.2 9.6L628.0 9.2L628.8 8.9L629.6 8.8L630.4 9.0L631.2 9.4L632.0 9.7L632.8 9.5L633.6 9.1L634.4 8.8L635.2 8.8L636.0 9.2L636.8 9.6L637.6 9.6L638.4 9.3L639.2 8.9L640.0 8.8L640.8 8.9L641.6 9.4L642.4 9.6L643.2 9.6L644.0 9.2L644.8 8.8L645.6 8.8L646.4 9.1L647.2 9.5L648.0 9.6L648.8 9.4L649.6 9.0L650.4 8.8L651.2 8.9L652.0 9.2L652.8 9.6L653.6 9.6L654.4 9.3L655.2 8.9L656.0 8.8L656.8 9.0L657.6 9.4L658.4 9.6L659.2 9.5L660.0 9.1L660.8 8.8L661.6 8.8L662.4 9.1L663.2 9.5L664.0 9.6L664.8 9.4L665.6 9.0L666.4 8.8L667.2 8.9L668.0 9.3L668.8 9.6L669.6 9.6L670.4 9.2L671.2 8.9L672.0 8.8L672.8 9.0L673.6 9.5L674.4 9.6L675.2 9.5L676.0 9.1L676.8 8.8L677.6 8.8L678.4 9.2L679.2 9.6L680.0 9.6" fill="none" stroke="#0072BD" stroke-width="5.4" stroke-linejoin="round"/>
<path d="M84.0 9.6L84.5 9.6L85.0 9.6L85.5 9.6L86.0 9.6L86.5 9.6L87.0 9.6L87.5 9.6L88.0 9.6L88.5 9.6L89.0 9.6L89.5 9.6L90.0 9.6L90.5 9.6L91.0 9.6L91.5 9.6L92.0 9.6L92.5 9.6L93.0 9.6L93.5 9.7L94.0 9.7L94.5 9.7L95.0 9.7L95.5 9.7L96.0 9.7L96.5 9.7L97.0 9.7L97.5 9.7L98.0 9.7L98.5 9.7L99.0 9.7L99.5 9.7L100.0 9.7L100.5 9.7L101.0 9.7L101.5 9.8L102.0 9.8L102.5 9.8L103.0 9.8L103.5 9.8L104.0 9.8L104.5 9.8L105.0 9.8L105.5 9.8L106.0 9.8L106.5 9.8L107.0 9.8L107.5 9.9L108.0 9.9L108.5 9.9L109.0 9.9L109.5 9.9L110.0 9.9L110.5 9.9L111.0 9.9L111.5 9.9L112.0 9.9L112.5 10.0L113.0 10.0L113.5 10.0L114.0 10.0L114.5 10.0L115.0 10.0L115.5 10.0L116.0 10.1L116.5 10.1L117.0 10.1L117.5 10.1L118.0 10.1L118.5 10.1L119.0 10.2L119.5 10.2L120.0 10.2L120.5 10.2L121.0 10.2L121.5 10.3L122.0 10.3L122.5 10.3L123.0 10.3L123.5 10.3L124.0 10.4L124.5 10.4L125.0 10.4L125.5 10.4L126.0 10.4L126.5 10.5L127.0 10.5L127.5 10.5L128.0 10.5L128.5 10.6L129.0 10.6L129.5 10.6L130.0 10.6L130.5 10.7L131.0 10.7L131.5 10.7L132.0 10.8L132.5 10.8L133.0 10.8L133.5 10.9L134.0 10.9L134.5 10.9L135.0 11.0L135.5 11.0L136.0 11.1L136.5 11.1L137.0 11.2L137.5 11.2L138.0 11.3L138.5 11.4L139.0 11.4L139.5 11.5L139.9 11.6L140.4 11.7L140.9 11.8L141.4 11.9L141.9 12.0L142.4 12.2L142.9 12.3L143.3 12.4L143.8 12.6L144.3 12.7L144.8 12.8L145.3 12.9L145.8 13.0L146.3 13.1L146.7 13.3L147.2 13.4L147.7 13.5L148.2 13.7L148.7 13.8L149.2 13.9L149.7 14.1L150.1 14.2L150.6 14.4L151.1 14.5L151.5 14.7L152.0 14.9L152.4 15.1L152.9 15.4L153.3 15.7L153.8 16.0L154.1 16.3L154.5 16.6L154.7 17.0L155.0 17.4L155.2 17.9L155.4 18.4L155.5 18.9L155.7 19.4L155.8 19.8L155.9 20.3L156.0 20.8L156.0 21.3L156.1 21.8L156.2 22.3L156.2 22.8L156.3 23.3L156.3 23.8L156.4 24.3L156.5 24.8L156.5 25.3L156.6 25.8L156.7 26.3L156.8 26.8L156.9 27.3L157.0 27.8L157.0 28.3L157.1 28.8L157.2 29.3L157.3 29.7L157.3 30.2L157.4 30.7L157.5 31.2L157.5 31.7L157.6 32.2L157.7 32.7L157.7 33.2L157.8 33.7L157.8 34.2L157.9 34.7L158.0 35.2L158.0 35.7L158.1 36.2L158.1 36.7L158.2 37.2L158.2 37.7L158.3 38.2L158.4 38.7L158.4 39.2L158.5 39.7L158.5 40.2L158.6 40.7L158.6 41.2L158.7 41.7L158.7 42.2L158.8 42.7L158.8 43.2L158.9 43.7L158.9 44.2L159.0 44.6L159.1 45.1L159.1 45.6L159.2 46.1L159.2 46.6L159.3 47.1L159.3 47.6L159.4 48.1L159.4 48.6L159.5 49.1L159.5 49.6L159.6 50.1L159.6 50.6L159.6 51.1L159.7 51.6L159.7 52.1L159.8 52.6L159.8 53.1L159.9 53.6L159.9 54.1L160.0 54.6L160.0 55.1L160.1 55.6L160.1 56.1L160.1 56.6L160.2 57.1L160.2 57.6L160.3 58.1L160.3 58.6L160.3 59.1L160.4 59.6L160.4 60.1L160.5 60.6L160.5 61.1L160.5 61.6L160.6 62.1L160.6 62.6L160.7 63.1L160.7 63.6L160.7 64.1L160.8 64.6L160.8 65.1L160.8 65.6L160.9 66.1L160.9 66.6L160.9 67.1L161.0 67.6L161.0 68.1L161.1 68.6L161.1 69.1L161.1 69.6L161.2 70.1L161.2 70.6L161.2 71.1L161.3 71.6L161.3 72.1L161.3 72.6L161.4 73.1L161.4 73.6L161.4 74.1L161.5 74.5L161.5 75.0L161.5 75.5L161.6 76.0L161.6 76.5L161.6 77.0L161.7 77.5L161.7 78.0L161.7 78.5L161.8 79.0L161.8 79.5L161.8 80.0L161.8 80.5L161.9 81.0L161.9 81.5L161.9 82.0L162.0 82.5L162.0 83.0L162.0 83.5L162.1 84.0L162.1 84.5L162.1 85.0L162.1 85.5L162.2 86.0L162.2 86.5L162.2 87.0L162.3 87.5L162.3 88.0L162.3 88.5L162.4 89.1L162.4 89.7L162.4 90.3L162.5 91.0L162.5 91.7L162.5 92.3L162.5 93.0L162.6 93.6L162.6 94.3L162.6 94.9L162.7 95.5L162.7 96.0L162.7 96.5L162.8 96.9L162.8 97.3L162.9 97.6L162.9 97.8L163.0 98.0L163.0 98.0L163.1 97.9L163.1 97.8L163.2 97.5L163.3 97.1L163.3 96.7L163.4 96.2L163.5 95.7L163.6 95.1L163.7 94.5L163.8 93.8L163.9 93.2L164.0 92.5L164.1 91.9L164.3 91.2L164.4 90.7L164.5 90.1L164.6 89.6L164.7 89.0L164.8 88.4L165.0 87.7L165.1 87.1L165.2 86.6L165.4 86.2L165.5 86.0L165.5 86.0L165.6 86.1L165.7 86.3L165.7 86.6L165.8 87.0L165.9 87.4L165.9 87.9L166.0 88.4L166.0 89.0L166.1 89.6L166.1 90.3L166.2 90.9L166.2 91.6L166.3 92.3L166.3 92.9L166.4 93.5L166.4 94.1L166.5 94.7L166.5 95.2L166.6 95.7L166.6 96.2L166.7 96.7L166.7 97.2L166.8 97.7L166.8 98.2L166.9 98.7L166.9 99.2L167.0 99.7L167.0 100.2L167.1 100.7L167.1 101.2L167.2 101.7L167.2 102.1L167.3 102.6L167.3 103.1L167.4 103.6L167.4 104.1L167.5 104.6L167.5 105.1L167.6 105.6L167.6 106.1L167.7 106.6L167.7 107.1L167.8 107.6L167.8 108.1L167.8 108.6L167.9 109.1L167.9 109.6L168.0 110.1L168.0 110.6L168.0 111.1L168.1 111.6L168.1 112.1L168.2 112.6L168.2 113.1L168.2 113.6L168.3 114.1L168.3 114.6L168.3 115.1L168.4 115.6L168.4 116.1L168.5 116.6L168.5 117.1L168.5 117.6L168.6 118.1L168.6 118.6L168.6 119.1L168.7 119.6L168.7 120.1L168.7 120.6L168.8 121.1L168.8 121.6L168.8 122.1L168.9 122.6L168.9 123.1L168.9 123.6L168.9 124.1L169.0 124.6L169.0 125.1L169.0 125.6L169.1 126.1L169.1 126.6L169.1 127.1L169.2 127.6L169.2 128.1L169.2 128.6L169.2 129.1L169.3 129.6L169.3 130.1L169.3 130.6L169.4 131.1L169.4 131.6L169.4 132.1L169.4 132.6L169.5 133.1L169.5 133.6L169.5 134.1L169.6 134.6L169.6 135.1L169.6 135.6L169.6 136.1L169.7 136.6L169.7 137.1L169.7 137.6L169.7 138.1L169.8 138.6L169.8 139.1L169.8 139.6L169.8 140.1L169.8 140.6L169.9 141.1L169.9 141.6L169.9 142.1L169.9 142.6L169.9 143.1L170.0 143.6L170.0 144.1L170.0 144.6L170.0 145.1L170.0 145.6L170.0 146.1L170.0 146.6L170.1 147.1L170.1 147.6L170.1 148.1L170.1 148.6L170.1 149.1L170.1 149.6L170.1 150.1L170.1 150.6L170.1 151.1L170.2 151.6L170.2 152.1L170.2 152.6L170.2 153.1L170.2 153.6L170.2 154.1L170.2 154.6L170.2 155.1L170.2 155.6L170.2 156.1L170.2 156.6L170.2 157.1L170.3 157.6L170.3 158.1L170.3 158.6L170.3 159.1L170.3 159.6L170.3 160.1L170.3 160.6L170.3 161.1L170.3 161.6L170.3 162.1L170.3 162.6L170.3 163.1L170.4 163.6L170.4 164.1L170.4 164.6L170.4 165.1L170.4 165.6L170.4 166.1L170.4 166.6L170.4 167.1L170.4 167.6L170.4 168.1L170.5 168.6L170.5 169.1L170.5 169.6L170.5 170.1L170.5 170.6L170.5 171.1L170.5 171.6L170.6 172.1L170.6 172.6L170.6 173.1L170.6 173.6L170.6 174.1L170.6 174.6L170.7 175.1L170.7 175.6L170.7 176.1L170.7 176.6L170.7 177.1L170.7 177.6L170.8 178.1L170.8 178.6L170.8 179.1L170.8 179.6L170.8 180.1L170.9 180.6L170.9 181.1L170.9 181.6L170.9 182.1L170.9 182.6L171.0 183.1L171.0 183.6L171.0 184.1L171.0 184.6L171.1 185.1L171.1 185.6L171.1 186.1L171.2 186.6L171.2 187.1L171.2 187.6L171.2 188.1L171.3 188.6L171.3 189.1L171.3 189.6L171.4 190.0L171.4 190.5L171.4 191.0L171.5 191.5L171.5 192.0L171.5 192.6L171.6 193.1L171.6 193.7L171.7 194.3L171.8 194.9L171.8 195.5L171.9 196.1L172.0 196.8L172.0 197.4L172.1 198.1L172.2 198.8L172.3 199.4L172.4 200.1L172.4 200.7L172.5 201.3L172.6 201.9L172.7 202.5L172.8 203.1L172.9 203.6L173.0 204.2L173.1 204.6L173.2 205.1L173.2 205.5L173.3 205.9L173.4 206.2L173.5 206.4L173.6 206.7L173.6 206.8L173.7 206.9L173.8 207.0L173.8 207.0L173.9 206.9L174.0 206.7L174.0 206.4L174.1 206.0L174.2 205.6L174.2 205.1L174.3 204.6L174.4 204.1L174.4 203.5L174.5 202.8L174.6 202.2L174.6 201.5L174.7 200.9L174.7 200.2L174.8 199.6L174.8 198.9L174.9 198.3L174.9 197.7L175.0 197.2L175.0 196.7L175.1 196.2L175.1 195.7L175.1 195.2L175.2 194.7L175.2 194.2L175.3 193.7L175.3 193.2L175.3 192.7L175.4 192.2L175.4 191.7L175.4 191.2L175.5 190.7L175.5 190.2L175.5 189.7L175.6 189.2L175.6 188.7L175.6 188.2L175.6 187.7L175.7 187.2L175.7 186.7L175.7 186.2L175.8 185.7L175.8 185.2L175.8 184.7L175.8 184.2L175.9 183.7L175.9 183.2L175.9 182.7L175.9 182.2L176.0 181.7L176.0 181.2L176.0 180.7L176.0 180.2L176.1 179.7L176.1 179.2L176.1 178.7L176.1 178.2L176.2 177.7L176.2 177.2L176.2 176.7L176.2 176.2L176.3 175.7L176.3 175.2L176.3 174.7L176.3 174.2L176.3 173.7L176.4 173.2L176.4 172.7L176.4 172.2L176.4 171.7L176.4 171.2L176.5 170.7L176.5 170.2L176.5 169.7L176.5 169.2L176.6 168.7L176.6 168.2L176.6 167.7L176.6 167.2L176.6 166.7L176.6 166.2L176.7 165.7L176.7 165.2L176.7 164.7L176.7 164.2L176.7 163.7L176.7 163.2L176.8 162.7L176.8 162.2L176.8 161.7L176.8 161.2L176.8 160.7L176.8 160.2L176.9 159.7L176.9 159.2L176.9 158.7L176.9 158.2L176.9 157.7L176.9 157.2L177.0 156.7L177.0 156.2L177.0 155.7L177.0 155.2L177.0 154.7L177.1 154.2L177.1 153.7L177.1 153.2L177.1 152.7L177.2 152.2L177.2 151.8L177.2 151.3L177.3 150.8L177.3 150.3L177.3 149.8L177.4 149.3L177.4 148.8L177.4 148.2L177.5 147.7L177.5 147.2L177.6 146.7L177.6 146.2L177.7 145.7L177.7 145.2L177.8 144.7L177.9 144.2L177.9 143.7L178.0 143.2L178.1 142.7L178.2 142.2L178.3 141.8L178.4 141.3L178.6 140.8L178.8 140.3L179.2 139.8L179.5 139.5L179.6 139.5L179.7 139.7L179.9 140.1L180.0 140.5L180.1 141.0L180.1 141.6L180.2 142.3L180.3 142.9L180.4 143.6L180.4 144.2L180.5 144.8L180.5 145.3L180.6 145.8L180.6 146.3L180.7 146.8L180.7 147.3L180.8 147.7L180.8 148.2L180.9 148.7L180.9 149.2L181.0 149.7L181.0 150.2L181.0 150.7L181.1 151.2L181.1 151.7L181.2 152.2L181.2 152.7L181.2 153.2L181.3 153.7L181.3 154.2L181.3 154.7L181.4 155.2L181.4 155.7L181.4 156.2L181.5 156.7L181.5 157.2L181.5 157.7L181.5 158.2L181.6 158.7L181.6 159.2L181.6 159.7L181.7 160.2L181.7 160.7L181.7 161.2L181.7 161.7L181.8 162.2L181.8 162.7L181.8 163.2L181.8 163.7L181.9 164.2L181.9 164.7L181.9 165.2L181.9 165.7L182.0 166.2L182.0 166.7L182.0 167.2L182.0 167.7L182.0 168.2L182.1 168.7L182.1 169.2L182.1 169.7L182.1 170.2L182.1 170.7L182.1 171.2L182.2 171.7L182.2 172.2L182.2 172.7L182.2 173.2L182.2 173.7L182.3 174.2L182.3 174.7L182.3 175.2L182.3 175.7L182.3 176.2L182.3 176.7L182.4 177.2L182.4 177.7L182.4 178.2L182.4 178.7L182.5 179.2L182.5 179.7L182.5 180.2L182.5 180.7L182.6 181.2L182.6 181.7L182.6 182.2L182.7 182.7L182.7 183.2L182.7 183.7L182.7 184.2L182.8 184.7L182.8 185.2L182.8 185.7L182.9 186.2L182.9 186.7L183.0 187.2L183.0 187.7L183.0 188.2L183.1 188.7L183.1 189.2L183.1 189.7L183.2 190.2L183.2 190.7L183.2 191.2L183.3 191.7L183.3 192.2L183.4 192.7L183.4 193.2L183.4 193.7L183.5 194.2L183.5 194.7L183.5 195.2L183.6 195.7L183.6 196.2L183.7 196.7L183.7 197.2L183.7 197.7L183.8 198.2L183.8 198.7L183.8 199.2L183.9 199.7L183.9 200.2L183.9 200.7L184.0 201.2L184.0 201.7L184.0 202.2L184.0 202.7L184.1 203.2L184.1 203.7L184.1 204.2L184.1 204.7L184.2 205.2L184.2 205.7L184.2 206.2L184.2 206.7L184.3 207.2L184.3 207.7L184.3 208.2L184.3 208.7L184.4 209.2L184.4 209.7L184.4 210.2L184.4 210.7L184.5 211.2L184.5 211.7L184.5 212.2L184.5 212.7L184.6 213.2L184.6 213.7L184.6 214.2L184.6 214.7L184.7 215.2L184.7 215.7L184.7 216.2L184.7 216.6L184.7 217.1L184.8 217.6L184.8 218.1L184.8 218.6L184.8 219.1L184.9 219.6L184.9 220.1L184.9 220.6L185.0 221.1L185.0 221.6L185.0 222.1L185.0 222.7L185.1 223.2L185.1 223.8L185.1 224.4L185.1 225.0L185.2 225.6L185.2 226.3L185.2 226.9L185.2 227.6L185.2 228.3L185.3 228.9L185.3 229.6L185.3 230.2L185.3 230.9L185.4 231.5L185.4 232.2L185.4 232.8L185.4 233.4L185.5 233.9L185.5 234.5L185.5 235.0L185.6 235.5L185.6 235.9L185.6 236.3L185.7 236.7L185.7 237.1L185.8 237.3L185.8 237.6L185.9 237.8L185.9 237.9L186.0 238.0L186.0 238.0L186.1 237.9L186.2 237.7L186.3 237.3L186.5 236.9L186.7 236.3L186.8 235.8L187.0 235.1L187.2 234.5L187.3 233.9L187.5 233.2L187.6 232.7L187.7 232.1L187.7 231.6L187.8 231.1L187.9 230.6L187.9 230.2L188.0 229.7L188.0 229.2L188.1 228.7L188.1 228.2L188.2 227.7L188.2 227.2L188.3 226.7L188.3 226.2L188.3 225.7L188.4 225.2L188.4 224.7L188.5 224.2L188.5 223.7L188.5 223.2L188.6 222.7L188.6 222.2L188.6 221.7L188.6 221.2L188.7 220.7L188.7 220.2L188.7 219.7L188.8 219.2L188.8 218.7L188.8 218.2L188.8 217.7L188.9 217.2L188.9 216.7L188.9 216.2L189.0 215.7L189.0 215.2L189.0 214.7L189.1 214.2L189.1 213.7L189.1 213.2L189.1 212.7L189.2 212.2L189.2 211.7L189.2 211.2L189.3 210.7L189.3 210.2L189.3 209.7L189.3 209.2L189.4 208.7L189.4 208.2L189.4 207.7L189.4 207.2L189.5 206.7L189.5 206.2L189.5 205.7L189.5 205.2L189.6 204.7L189.6 204.2L189.6 203.7L189.6 203.2L189.7 202.7L189.7 202.2L189.7 201.7L189.7 201.2L189.8 200.7L189.8 200.2L189.8 199.7L189.8 199.2L189.9 198.7L189.9 198.2L189.9 197.7L189.9 197.2L189.9 196.7L190.0 196.2L190.0 195.7L190.0 195.2L190.0 194.7L190.0 194.2L190.0 193.7L190.1 193.2L190.1 192.7L190.1 192.2L190.1 191.7L190.1 191.2L190.1 190.7L190.2 190.2L190.2 189.7L190.2 189.2L190.2 188.7L190.2 188.2L190.2 187.7L190.2 187.2L190.2 186.7L190.3 186.2L190.3 185.7L190.3 185.2L190.3 184.7L190.3 184.2L190.3 183.7L190.3 183.2L190.3 182.7L190.4 182.2L190.4 181.7L190.4 181.2L190.4 180.7L190.4 180.2L190.4 179.7L190.4 179.2L190.5 178.7L190.5 178.2L190.5 177.7L190.5 177.2L190.5 176.7L190.6 176.2L190.6 175.7L190.6 175.2L190.6 174.7L190.6 174.2L190.7 173.7L190.7 173.2L190.7 172.7L190.7 172.2L190.8 171.7L190.8 171.2L190.8 170.7L190.8 170.2L190.9 169.7L190.9 169.2L190.9 168.7L191.0 168.2L191.0 167.7L191.0 167.2L191.1 166.7L191.1 166.2L191.1 165.7L191.2 165.2L191.2 164.7L191.2 164.2L191.3 163.7L191.3 163.2L191.3 162.7L191.4 162.2L191.4 161.7L191.5 161.2L191.5 160.7L191.5 160.2L191.6 159.7L191.6 159.2L191.7 158.7L191.7 158.2L191.7 157.7L191.8 157.2L191.8 156.7L191.9 156.2L191.9 155.7L191.9 155.2L192.0 154.7L192.0 154.2L192.1 153.7L192.1 153.2L192.1 152.7L192.2 152.2L192.2 151.7L192.3 151.2L192.3 150.7L192.3 150.2L192.4 149.7L192.4 149.2L192.4 148.7L192.5 148.2L192.5 147.7L192.6 147.2L192.6 146.7L192.7 146.2L192.7 145.7L192.7 145.2L192.8 144.7L192.8 144.2L192.9 143.7L193.0 143.2L193.0 142.7L193.1 142.2L193.1 141.7L193.2 141.2L193.3 140.7L193.4 140.2L193.4 139.8L193.5 139.3" fill="none" stroke="#D95319" stroke-width="3.6" stroke-linejoin="round" stroke-dasharray="10.12 9.65"/>
<path d="M193.5 139.3L193.6 138.8L193.7 138.3L193.8 137.8L194.0 137.2L194.2 136.6L194.4 136.1L194.6 135.5L194.8 135.0L195.1 134.6L195.4 134.4L195.7 134.3L196.1 134.4L196.6 134.6L197.2 134.8L197.5 135.0L197.9 135.3L198.2 135.6L198.4 135.9L198.7 136.3L199.0 136.7L199.2 137.1L199.5 137.6L199.7 138.0L200.0 138.5L200.2 139.0L200.4 139.5L200.6 140.1L200.7 140.6L200.9 141.1L201.1 141.6L201.2 142.2L201.4 142.7L201.5 143.2L201.6 143.7L201.7 144.1L201.8 144.6L201.9 145.1L202.0 145.6L202.1 146.0" fill="none" stroke="#D95319" stroke-width="3.6" stroke-linejoin="round" stroke-dasharray="10.12 9.64"/>
<path d="M202.1 146.0L202.2 146.5L202.3 147.0L202.4 147.5L202.5 148.0L202.6 148.4L202.7 148.9L202.7 149.4L202.8 149.9L202.9 150.4L203.0 150.9L203.0 151.4L203.1 151.9L203.2 152.4L203.2 152.9L203.3 153.4L203.4 153.9L203.4 154.4L203.5 154.8L203.5 155.3L203.6 155.8L203.6 156.3L203.7 156.9L203.8 157.4L203.8 157.9L203.9 158.4L203.9 158.9L204.0 159.4L204.0 159.9L204.1 160.4L204.1 160.9L204.2 161.4L204.2 161.9L204.3 162.4L204.3 162.9L204.4 163.4L204.4 163.9L204.5 164.4L204.5 164.9L204.6 165.4L204.6 165.9L204.7 166.4L204.7 166.9L204.8 167.4L204.9 167.9L204.9 168.4L205.0 168.9L205.0 169.4L205.1 169.9L205.2 170.4L205.2 170.9L205.3 171.4L205.4 171.9L205.5 172.4L205.5 172.9L205.6 173.5L205.7 174.1L205.7 174.7L205.8 175.3L205.9 175.9L206.0 176.6L206.0 177.2L206.1 177.9L206.2 178.5L206.2 179.2L206.3 179.8L206.4 180.5L206.5 181.1L206.5 181.8L206.6 182.4L206.7 183.0L206.8 183.6L206.8 184.1L206.9 184.6L207.0 185.1L207.1 185.6L207.2 186.0L207.3 186.4L207.3 186.8L207.4 187.1L207.5 187.4L207.6 187.6L207.7 187.8L207.8 187.9L207.9 188.0L208.0 188.0L208.2 187.9L208.3 187.7L208.4 187.4L208.6 187.0L208.8 186.6L208.9 186.1L209.1 185.6L209.3 185.0L209.4 184.4L209.6 183.8L209.8 183.1L209.9 182.5L210.1 181.9L210.2 181.3L210.3 180.7L210.5 180.2L210.6 179.7L210.7 179.2L210.8 178.7L210.9 178.2L211.0 177.7L211.1 177.3L211.2 176.8L211.2 176.3L211.3 175.8L211.4 175.3L211.5 174.8L211.6 174.3L211.7 173.8L211.8 173.3L211.8 172.8L211.9 172.3L212.0 171.8L212.1 171.3L212.1 170.8L212.2 170.4L212.3 169.9L212.4 169.4L212.4 168.9L212.5 168.4L212.6 167.9L212.6 167.4L212.7 166.9L212.8 166.4L212.8 165.9L212.9 165.4L213.0 164.9L213.0 164.4L213.1 163.9L213.1 163.4L213.2 162.9L213.3 162.4L213.3 161.9L213.4 161.4L213.5 160.9L213.5 160.4L213.6 159.9L213.6 159.4L213.7 158.9L213.8 158.4L213.8 157.9L213.9 157.4L213.9 156.9L214.0 156.4L214.0 155.9L214.1 155.4L214.1 154.9L214.2 154.4L214.2 153.9L214.3 153.4L214.3 152.9L214.3 152.4L214.4 151.9L214.4 151.4L214.5 150.9L214.5 150.4L214.6 149.9L214.6 149.4L214.7 148.9L214.7 148.5L214.8 148.0L214.8 147.5L214.8 147.0L214.9 146.5L215.0 146.0L215.0 145.5L215.1 145.0L215.1 144.5L215.2 144.0L215.2 143.5L215.3 143.0L215.4 142.5L215.4 142.0L215.5 141.5L215.6 141.0L215.6 140.5L215.7 140.0L215.8 139.5L215.9 139.0L215.9 138.5L216.0 138.1L216.1 137.6L216.2 137.1L216.3 136.6L216.4 136.1L216.5 135.6L216.7 135.1L216.8 134.6L216.9 134.1L217.0 133.7L217.1 133.2L217.3 132.7L217.4 132.2L217.5 131.7L217.7 131.2L217.8 130.8L217.9 130.3L218.1 129.8L218.2 129.3L218.3 128.8L218.5 128.4L218.7 127.9L218.8 127.4L219.0 126.9L219.2 126.5L219.3 126.0L219.5 125.5L219.7 125.0L219.9 124.6L220.1 124.1L220.3 123.7L220.5 123.2L220.7 122.7L220.9 122.3L221.1 121.8L221.3 121.4L221.5 120.9L221.7 120.5L222.0 120.0L222.2 119.6L222.5 119.1L222.7 118.7L223.0 118.3L223.2 117.8L223.5 117.4L223.8 117.0L224.1 116.6L224.4 116.2L224.7 115.8L225.0 115.5L225.4 115.1L225.7 114.7L226.1 114.3L226.5 113.9L226.9 113.5L227.3 113.2L227.7 112.9L228.2 112.7L228.6 112.5L229.0 112.5L229.5 112.5L229.9 112.6L230.4 112.7L230.9 112.8L231.4 113.0L231.9 113.1L232.3 113.3L232.8 113.5L233.3 113.8L233.8 114.0L234.3 114.2L234.7 114.4L235.2 114.6L235.6 114.8L236.1 115.1L236.5 115.4L237.0 115.7L237.4 116.1L237.8 116.4L238.3 116.7L238.7 117.1L239.1 117.3L239.6 117.6L240.0 117.8L240.4 117.9L240.8 118.0L241.2 118.0L241.6 117.9L242.1 117.7L242.5 117.4L242.9 117.1L243.3 116.7L243.7 116.3L244.1 115.9L244.5 115.5L244.8 115.2L245.2 114.8L245.5 114.4L245.8 114.1L246.1 113.7L246.5 113.3L246.7 112.9L247.0 112.4L247.3 112.0L247.6 111.6L247.9 111.2L248.1 110.8L248.4 110.4L248.7 109.9L248.9 109.5L249.2 109.1L249.4 108.6L249.7 108.2L249.9 107.8L250.2 107.3L250.4 106.9L250.6 106.4L250.9 106.0L251.1 105.5L251.3 105.1L251.5 104.6L251.7 104.2L251.9 103.7L252.1 103.2L252.3 102.8L252.5 102.3L252.7 101.9L252.8 101.4L253.0 100.9L253.2 100.5L253.4 100.0L253.6 99.5L253.8 99.1L254.0 98.6L254.2 98.2L254.4 97.7L254.7 97.3L254.9 96.8L255.1 96.4L255.4 96.0L255.6 95.5L255.9 95.1L256.2 94.7L256.5 94.3L256.8 93.9L257.1 93.5L257.4 93.1L257.7 92.6L257.9 92.2L258.2 91.8L258.5 91.4L258.8 91.0L259.0 90.6L259.3 90.1L259.5 89.7L259.7 89.2L259.9 88.8L260.1 88.3L260.3 87.9L260.4 87.4L260.6 86.9L260.7 86.4L260.9 85.9L261.0 85.4L261.2 85.0L261.4 84.5L261.5 84.0L261.7 83.6L261.9 83.1L262.2 82.7L262.4 82.3L262.7 81.9L263.1 81.5L263.4 81.1L263.7 80.7L264.1 80.3L264.4 79.9L264.6 79.5L264.8 79.0L265.0 78.6L265.2 78.2L265.3 77.7L265.4 77.2L265.6 76.8L265.7 76.3L265.8 75.8L265.9 75.3L266.0 74.8L266.1 74.3L266.2 73.8L266.2 73.3L266.3 72.8L266.4 72.3L266.5 71.8L266.6 71.3L266.7 70.8L266.8 70.3L266.9 69.8L267.0 69.3L267.1 68.8L267.2 68.3L267.3 67.8L267.4 67.3L267.5 66.8L267.7 66.4L267.8 65.9L268.0 65.4L268.1 64.9L268.3 64.4L268.5 64.0L268.7 63.5L268.8 63.0L269.0 62.6L269.2 62.1L269.4 61.6L269.6 61.2L269.9 60.8L270.1 60.3L270.3 59.9L270.6 59.5L270.9 59.1L271.2 58.6L271.5 58.2L271.8 57.8L272.1 57.5L272.5 57.1L272.8 56.8L273.2 56.4L273.6 56.1L274.1 55.7L274.6 55.4L275.0 55.1L275.4 55.0L275.7 55.0L276.0 55.2L276.3 55.4L276.6 55.8L276.9 56.2L277.2 56.7L277.4 57.3L277.7 57.8L277.9 58.4L278.1 59.0L278.3 59.5L278.5 60.0L278.7 60.4L278.8 60.9L279.0 61.4L279.2 61.8L279.3 62.3L279.5 62.8L279.7 63.3L279.8 63.7L280.0 64.2L280.1 64.7L280.2 65.2L280.3 65.7L280.5 66.2L280.6 66.7L280.7 67.2L280.8 67.7L280.9 68.2L280.9 68.6L281.0 69.1L281.1 69.6L281.2 70.1L281.2 70.6L281.3 71.1L281.3 71.6L281.4 72.1L281.4 72.6L281.5 73.1L281.5 73.6L281.6 74.1L281.6 74.6L281.7 75.1L281.7 75.6L281.8 76.1L281.8 76.6L281.8 77.1L281.9 77.6L281.9 78.1L282.0 78.6L282.0 79.1L282.0 79.6L282.1 80.1L282.1 80.6L282.1 81.1L282.2 81.6L282.2 82.1L282.2 82.6L282.3 83.1L282.3 83.6L282.4 84.1L282.4 84.6L282.4 85.1L282.5 85.6L282.5 86.1L282.6 86.6L282.6 87.1L282.7 87.6L282.7 88.1L282.7 88.6L282.8 89.1L282.8 89.6L282.9 90.1L282.9 90.6L283.0 91.1L283.1 91.5L283.1 92.0L283.1 92.5L283.2 93.0L283.2 93.5L283.3 94.0L283.3 94.5L283.4 95.0L283.4 95.5L283.5 96.0L283.5 96.5L283.5 97.0L283.6 97.5L283.6 98.0L283.6 98.5L283.7 99.0L283.7 99.5L283.7 100.0L283.8 100.5L283.8 101.0L283.8 101.5L283.9 102.0L283.9 102.5L283.9 103.0L284.0 103.5L284.0 104.0L284.0 104.5L284.0 105.0L284.1 105.5L284.1 106.0L284.1 106.5L284.2 107.0L284.2 107.5L284.2 108.0L284.2 108.5L284.3 109.0L284.3 109.5L284.3 110.0L284.4 110.5L284.4 111.0L284.4 111.5L284.4 112.0L284.5 112.5L284.5 113.0L284.5 113.5L284.5 114.0L284.6 114.5L284.6 115.0L284.6 115.5L284.6 116.0L284.7 116.5L284.7 117.0L284.7 117.5L284.7 118.0L284.7 118.5L284.8 119.0L284.8 119.5L284.8 120.0L284.8 120.5L284.9 121.0L284.9 121.5L284.9 122.0L284.9 122.5L284.9 123.0L285.0 123.5L285.0 124.0L285.0 124.5L285.0 125.0L285.0 125.5L285.1 126.0L285.1 126.5L285.1 127.0L285.1 127.5L285.1 128.0L285.2 128.5L285.2 129.0L285.2 129.5L285.2 130.0L285.2 130.5L285.3 131.0L285.3 131.5L285.3 132.0L285.3 132.5L285.3 133.0L285.4 133.5L285.4 134.1L285.4 134.6L285.4 135.2L285.4 135.8L285.4 136.3L285.5 136.9L285.5 137.5L285.5 138.1L285.5 138.7L285.5 139.3L285.5 140.0L285.6 140.6L285.6 141.2L285.6 141.9L285.6 142.5L285.6 143.2L285.6 143.8L285.7 144.5" fill="none" stroke="#D95319" stroke-width="3.6" stroke-linejoin="round" stroke-dasharray="10.28 9.80"/>
<path d="M285.7 144.5L285.7 145.1L285.7 145.8L285.7 146.4L285.7 147.1L285.7 147.8L285.8 148.4L285.8 149.1L285.8 149.8L285.8 150.4L285.8 151.1L285.8 151.8L285.9 152.4L285.9 153.1L285.9 153.7L285.9 154.4L285.9 155.0L285.9 155.7L285.9 156.3L286.0 157.0L286.0 157.6L286.0 158.2L286.0 158.8L286.0 159.5L286.0 160.1L286.0 160.7L286.1 161.2L286.1 161.8L286.1 162.4L286.1 163.0L286.1 163.5L286.1 164.1L286.1 164.6L286.2 165.1L286.2 165.6L286.2 166.1L286.2 166.6L286.2 167.1L286.2 167.5L286.2 168.0L286.2 168.4L286.3 168.8L286.3 169.2L286.3 169.6L286.3 170.0L286.3 170.4L286.3 170.7L286.3 171.0L286.3 171.3L286.4 171.6L286.4 171.9L286.4 172.1L286.4 172.4L286.4 172.6L286.4 172.8L286.4 172.9L286.4 173.1L286.4 173.2L286.5 173.3L286.5 173.4L286.5 173.5L286.5 173.5L286.5 173.5L286.5 173.5L286.5 173.5L286.5 173.4L286.5 173.4L286.6 173.3L286.6 173.2L286.6 173.1L286.6 172.9L286.6 172.8L286.6 172.6L286.6 172.4L286.6 172.2L286.6 172.0L286.6 171.8L286.6 171.6L286.7 171.3L286.7 171.0L286.7 170.7L286.7 170.4L286.7 170.1L286.7 169.8L286.7 169.5L286.7 169.1L286.7 168.7L286.7 168.4L286.7 168.0L286.7 167.6L286.8 167.2L286.8 166.7L286.8 166.3L286.8 165.8L286.8 165.4L286.8 164.9L286.8 164.4L286.8 163.9L286.8 163.4L286.8 162.9L286.8 162.4L286.8 161.9L286.8 161.4L286.8 160.8L286.9 160.3L286.9 159.7L286.9 159.2L286.9 158.6L286.9 158.0L286.9 157.4L286.9 156.8L286.9 156.2L286.9 155.6L286.9 155.0L286.9 154.4L286.9 153.8L286.9 153.2L286.9 152.5L287.0 151.9L287.0 151.3L287.0 150.6L287.0 150.0L287.0 149.3L287.0 148.7L287.0 148.0L287.0 147.4L287.0 146.7L287.0 146.0L287.0 145.4L287.0 144.7L287.0 144.0L287.0 143.4L287.1 142.7L287.1 142.1L287.1 141.4L287.1 140.7L287.1 140.1L287.1 139.4L287.1 138.7L287.1 138.1L287.1 137.4L287.1 136.7L287.1 136.1L287.1 135.4L287.1 134.8L287.2 134.1L287.2 133.5L287.2 132.8L287.2 132.2L287.2 131.6L287.2 130.9L287.2 130.3L287.2 129.7L287.2 129.0L287.2 128.4L287.2 127.8L287.3 127.2L287.3 126.6L287.3 126.0L287.3 125.5L287.3 124.9L287.3 124.3L287.3 123.7L287.3 123.2L287.3 122.6L287.4 122.1L287.4 121.6L287.4 121.0L287.4 120.5L287.4 120.0L287.4 119.5L287.4 119.0L287.4 118.5L287.4 118.0L287.5 117.5L287.5 117.0L287.5 116.5L287.5 116.0L287.5 115.5L287.5 115.0L287.6 114.5L287.6 114.0L287.6 113.5L287.6 113.0L287.6 112.5L287.6 112.0L287.7 111.5L287.7 111.0L287.7 110.5L287.7 110.0L287.7 109.5L287.7 109.0L287.8 108.5L287.8 108.0L287.8 107.5L287.8 107.0L287.8 106.5L287.8 106.0L287.9 105.5L287.9 105.0L287.9 104.5L287.9 104.0L287.9 103.5L288.0 103.0L288.0 102.5L288.0 102.0L288.0 101.5L288.0 101.0L288.1 100.5L288.1 100.0L288.1 99.5L288.1 99.0L288.1 98.5L288.2 98.0L288.2 97.5L288.2 97.0L288.2 96.5L288.2 96.0L288.3 95.5L288.3 95.0L288.3 94.5L288.3 94.0L288.3 93.5L288.4 93.0L288.4 92.5L288.4 92.0L288.4 91.5L288.4 91.0L288.5 90.5L288.5 90.0L288.5 89.5L288.5 89.0L288.6 88.5L288.6 88.0L288.6 87.5L288.6 87.0L288.6 86.5L288.7 86.0L288.7 85.5L288.7 85.0L288.7 84.5L288.8 84.0L288.8 83.5L288.8 83.0L288.8 82.5L288.8 82.0L288.9 81.5L288.9 81.0L288.9 80.5L288.9 80.1L289.0 79.6L289.0 79.1L289.0 78.6L289.0 78.1L289.0 77.6L289.1 77.1L289.1 76.6L289.1 76.1L289.1 75.6L289.2 75.1L289.2 74.6L289.2 74.1L289.2 73.6L289.2 73.1L289.3 72.6L289.3 72.1L289.3 71.6L289.3 71.1L289.4 70.6L289.4 70.1L289.4 69.6L289.4 69.1L289.5 68.6L289.5 68.1L289.5 67.6L289.5 67.1L289.6 66.6L289.6 66.1L289.6 65.6L289.6 65.1L289.7 64.6L289.7 64.1L289.7 63.6L289.8 63.1L289.8 62.6L289.8 62.1L289.8 61.6L289.9 61.1L289.9 60.6L289.9 60.1L289.9 59.6L290.0 59.1L290.0 58.6L290.0 58.1L290.0 57.6L290.1 57.1L290.1 56.6L290.1 56.1L290.2 55.6L290.2 55.1L290.2 54.6L290.2 54.1L290.3 53.6L290.3 53.1L290.3 52.6L290.4 52.1L290.4 51.6L290.4 51.1L290.5 50.6L290.5 50.1L290.5 49.6L290.6 49.1L290.6 48.6L290.6 48.1L290.7 47.6L290.7 47.1L290.8 46.6L290.8 46.1L290.9 45.6L290.9 45.1L290.9 44.6L291.0 44.1L291.0 43.6L291.1 43.1L291.1 42.6L291.2 42.1L291.3 41.6L291.3 41.1L291.4 40.6L291.4 40.1L291.5 39.6L291.6 39.1L291.6 38.6L291.7 38.1L291.8 37.6L291.9 37.1L291.9 36.6L292.0 36.1L292.1 35.6L292.2 35.1L292.3 34.6L292.4 34.2L292.4 33.7L292.5 33.2L292.6 32.7L292.7 32.2L292.8 31.7L292.9 31.2L293.0 30.7L293.1 30.2L293.2 29.7L293.4 29.3L293.5 28.8L293.6 28.3L293.7 27.8L293.8 27.3L293.9 26.8L294.1 26.4L294.2 25.9L294.3 25.4L294.5 24.9L294.6 24.4L294.8 23.9L294.9 23.4L295.1 22.9L295.3 22.5L295.5 22.0L295.7 21.5L295.9 21.0L296.1 20.5L296.3 20.1L296.5 19.6L296.7 19.2L297.0 18.8L297.2 18.4L297.5 18.0L297.8 17.6L298.1 17.3L298.4 16.9L298.8 16.5L299.2 16.2L299.6 15.9L300.0 15.6L300.4 15.3L300.9 15.1L301.3 14.9L301.7 14.7L302.2 14.5L302.7 14.3" fill="none" stroke="#D95319" stroke-width="3.6" stroke-linejoin="round" stroke-dasharray="9.84 9.38"/>
<path d="M302.7 14.3L303.1 14.1L303.6 14.0L304.1 13.8L304.6 13.7L305.1 13.6L305.6 13.5L306.1 13.4L306.6 13.3L307.1 13.2L307.6 13.2L308.1 13.1L308.5 13.1L309.0 13.0L309.5 13.0L310.0 12.9L310.5 12.9L311.0 12.8L311.5 12.8L312.0 12.7L312.5 12.7L313.0 12.6L313.5 12.6L314.0 12.6L314.5 12.5L315.0 12.5L315.5 12.5L316.0 12.4L316.5 12.4L317.0 12.4L317.5 12.3L318.0 12.3L318.5 12.3L319.0 12.3L319.5 12.2L320.0 12.2L320.5 12.2L321.0 12.2L321.5 12.1L322.0 12.1L322.5 12.1L323.0 12.1L323.5 12.0L324.0 12.0L324.5 12.0L325.0 12.0L325.5 12.0L326.0 12.0L326.5 11.9L327.0 11.9L327.5 11.9L328.0 11.9L328.5 11.9L329.0 11.9L329.5 11.8L330.0 11.8L330.5 11.8L331.0 11.8L331.5 11.8L332.0 11.8L332.5 11.8L333.0 11.7L333.5 11.7L334.0 11.7L334.5 11.7L335.0 11.7L335.5 11.7L336.0 11.7L336.5 11.7L337.0 11.7L337.5 11.6L338.0 11.6L338.5 11.6L339.0 11.6L339.5 11.6L340.0 11.6L340.5 11.6L341.0 11.6L341.5 11.6L342.0 11.6L342.5 11.6L343.0 11.5L343.5 11.5L344.0 11.5L344.5 11.5L345.0 11.5L345.5 11.5L346.0 11.5L346.5 11.5L347.0 11.5L347.5 11.5L348.0 11.5L348.5 11.5L349.0 11.5L349.5 11.5L350.0 11.5L350.5 11.5L351.0 11.5L351.5 11.5L352.0 11.5L352.5 11.5L353.0 11.5L353.5 11.5L354.0 11.4L354.5 11.4L355.0 11.4L355.5 11.4L356.0 11.4L356.5 11.4L357.0 11.4L357.5 11.4L358.0 11.4L358.5 11.4L359.0 11.4L359.5 11.4L360.0 11.4L360.5 11.4L361.0 11.4L361.5 11.4L362.0 11.4L362.5 11.4L363.0 11.4L363.5 11.4L364.0 11.4L364.5 11.4L365.0 11.4L365.5 11.4L366.0 11.4L366.5 11.4L367.0 11.4L367.5 11.4L368.0 11.4L368.5 11.4L369.0 11.4L369.5 11.4L370.0 11.4L370.5 11.4L371.0 11.4L371.5 11.4L372.0 11.4L372.5 11.4L373.0 11.4L373.5 11.4L374.0 11.4L374.5 11.4L375.0 11.4L375.5 11.5L376.0 11.5L376.5 11.5L377.0 11.5L377.5 11.5L378.0 11.5L378.5 11.5L379.0 11.5L379.5 11.5L380.0 11.5L380.5 11.5L381.0 11.5L381.5 11.6L382.0 11.6L382.5 11.6L383.0 11.6L383.5 11.6L384.0 11.6L384.5 11.6L385.0 11.6L385.5 11.6L386.0 11.7L386.5 11.7L387.0 11.7L387.5 11.7L388.0 11.7L388.5 11.7L389.0 11.7L389.5 11.8L390.0 11.8L390.5 11.8L391.0 11.8L391.5 11.8L392.0 11.9L392.5 11.9L393.0 11.9L393.5 12.0L394.0 12.0L394.5 12.0L395.0 12.1L395.5 12.1L396.0 12.1L396.5 12.2L397.0 12.2L397.5 12.3L398.0 12.3L398.5 12.3L399.0 12.4L399.5 12.4L400.0 12.5L400.5 12.5L401.0 12.6L401.5 12.6L402.0 12.7L402.5 12.8L403.0 12.8L403.5 12.9L404.0 13.0L404.5 13.1L405.0 13.1L405.5 13.2L406.0 13.3L406.5 13.4L407.0 13.5L407.4 13.6L407.9 13.7L408.4 13.8L408.9 14.0L409.4 14.1L409.9 14.3L410.4 14.5L410.9 14.7L411.4 14.9L411.8 15.1L412.2 15.3L412.6 15.5L413.0 15.7L413.4 16.0L413.7 16.3L414.1 16.6L414.4 17.0L414.7 17.4L415.1 17.8L415.4 18.2L415.7 18.6L416.0 19.0L416.3 19.5L416.6 19.9L416.8 20.3L417.1 20.8L417.4 21.2L417.7 21.6L418.0 22.0L418.3 22.4L418.6 22.8L418.9 23.2L419.2 23.6L419.5 24.0L419.8 24.4L420.1 24.8L420.4 25.3L420.7 25.7L421.0 26.1L421.2 26.5L421.5 26.9L421.7 27.4L421.9 27.8L422.2 28.3L422.4 28.7L422.6 29.2L422.8 29.6L423.0 30.1L423.2 30.5L423.4 31.0L423.6 31.5L423.8 31.9L424.0 32.4L424.1 32.9L424.3 33.4L424.4 33.8L424.6 34.3L424.7 34.8L424.9 35.3L425.0 35.7L425.1 36.2L425.2 36.7L425.3 37.2L425.4 37.7L425.5 38.2L425.6 38.7L425.7 39.2L425.8 39.6L425.9 40.1L426.0 40.6L426.1 41.1L426.2 41.6L426.3 42.1L426.4 42.6L426.6 43.1L426.7 43.6L426.8 44.1L426.9 44.6L427.0 45.0L427.1 45.5L427.3 46.0L427.4 46.5L427.6 47.0L427.7 47.4L427.8 47.9L428.0 48.4L428.1 48.9L428.3 49.4L428.4 49.8L428.6 50.3L428.7 50.8L428.8 51.3L428.9 51.8L429.1 52.3L429.2 52.7L429.3 53.2L429.3 53.7L429.4 54.2L429.5 54.7L429.6 55.2L429.7 55.7L429.7 56.2L429.8 56.7L429.9 57.2L430.0 57.7L430.1 58.2L430.2 58.7L430.3 59.2L430.4 59.6L430.5 60.1L430.7 60.6L430.8 61.1L431.0 61.6L431.2 62.1L431.3 62.6L431.5 63.1L431.8 63.6L432.0 64.1L432.2 64.5L432.5 64.9L432.8 65.2L433.0 65.5L433.4 65.8L433.8 66.1L434.3 66.4L434.7 66.6L435.3 66.9L435.8 67.1L436.3 67.2L436.7 67.3L437.2 67.3L437.6 67.2L438.0 67.0L438.4 66.7L438.8 66.4L439.2 66.0L439.6 65.6L440.0 65.2L440.3 64.8L440.7 64.4L441.0 64.0L441.3 63.6L441.6 63.2L441.9 62.8L442.2 62.4L442.4 61.9L442.7 61.5L443.0 61.0L443.2 60.6L443.5 60.2L443.8 59.8L444.1 59.4L444.4 59.1L444.8 58.7L445.2 58.4L445.6 58.0L446.0 57.7L446.5 57.4L446.9 57.1L447.4 56.9L447.8 56.8L448.3 56.7L448.7 56.7L449.2 56.9L449.6 57.1L450.1 57.4L450.5 57.7L451.0 58.0L451.4 58.4L451.7 58.7L452.1 59.1L452.4 59.4L452.6 59.8L452.9 60.2L453.2 60.6L453.4 61.0L453.6 61.5L453.9 61.9L454.1 62.4L454.3 62.9L454.5 63.3L454.7 63.8L454.9 64.3L455.1 64.8L455.3 65.2L455.6 65.7L455.8 66.2L456.1 66.6L456.3 67.0L456.6 67.4L456.9 67.9L457.1 68.3L457.4 68.7L457.7 69.1L458.0 69.5L458.3 69.9L458.6 70.3L458.9 70.8L459.2 71.2L459.5 71.6L459.7 72.0L460.0 72.4L460.2 72.9L460.5 73.3L460.7 73.7L460.9 74.2L461.1 74.6L461.3 75.1L461.4 75.6L461.6 76.0L461.8 76.5L461.9 77.0L462.1 77.4L462.2 77.9L462.4 78.4L462.5 78.9L462.6 79.4L462.8 79.8L462.9 80.3L463.0 80.8L463.2 81.3L463.3 81.8L463.5 82.3L463.6 82.8L463.7 83.2L463.9 83.7L464.0 84.2L464.2 84.7L464.4 85.2L464.5 85.6L464.7 86.1L464.8 86.6L465.0 87.1L465.1 87.5L465.3 88.0L465.4 88.5L465.6 89.0L465.8 89.5L465.9 89.9L466.1 90.4L466.2 90.9L466.4 91.4L466.6 91.8L466.8 92.3L466.9 92.8L467.1 93.2L467.3 93.7L467.5 94.1L467.7 94.6L467.9 95.0L468.1 95.5L468.4 95.9L468.6 96.4L468.8 96.8L469.1 97.3L469.3 97.7L469.6 98.1L469.8 98.6L470.1 99.0L470.4 99.4L470.7 99.9L471.0 100.3L471.2 100.7L471.5 101.1L471.8 101.5L472.2 101.8" fill="none" stroke="#D95319" stroke-width="3.6" stroke-linejoin="round" stroke-dasharray="10.17 9.69"/>
<path d="M472.2 101.8L472.5 102.2L472.8 102.6L473.2 102.9L473.5 103.2L473.9 103.6L474.3 103.9L474.7 104.2L475.1 104.5L475.5 104.8L475.9 105.1L476.3 105.4L476.7 105.7L477.1 106.0L477.5 106.3L477.9 106.6L478.3 107.0L478.7 107.3L479.0 107.6L479.4 108.0L479.7 108.3L480.1 108.7L480.4 109.1L480.7 109.5L481.0 109.8L481.3 110.2L481.7 110.6L482.0 111.0L482.3 111.4L482.6 111.8L482.9 112.2L483.2 112.6L483.5 113.0L483.8 113.4L484.1 113.8L484.3 114.3L484.6 114.7L484.9 115.1L485.2 115.5L485.5 115.9L485.8 116.3L486.1 116.7L486.4 117.1L486.6 117.6L486.9 118.0L487.1 118.5L487.4 119.0L487.7 119.4L487.9 119.9L488.2 120.3L488.4 120.8L488.7 121.2L489.0 121.6L489.2 122.1L489.5 122.4L489.8 122.8L490.1 123.2L490.5 123.5L490.8 123.8L491.1 124.1L491.5 124.4L491.9 124.7L492.4 124.9L492.8 125.2L493.3 125.4L493.8 125.6L494.3 125.8L494.7 125.9L495.2 126.0L495.7 126.1L496.2 126.2L496.7 126.2L497.3 126.2L497.8 126.3L498.3 126.3L498.8 126.4L499.3 126.4L499.7 126.5L500.1 126.6L500.6 126.7L501.0 126.9L501.4 127.2L501.8 127.4L502.1 127.7L502.5 128.0L502.9 128.4L503.3 128.8L503.6 129.2L504.0 129.6L504.3 130.0L504.7 130.4L505.0 130.8L505.4 131.3L505.7 131.7L506.1 132.1L506.4 132.5L506.8 132.8L507.1 133.2L507.4 133.7L507.8 134.1L508.1 134.6L508.5 135.1L508.8 135.6L509.2 136.0L509.5 136.3L509.8 136.5L510.1 136.5L510.3 136.4L510.6 136.2L510.9 135.9L511.2 135.5" fill="none" stroke="#D95319" stroke-width="3.6" stroke-linejoin="round" stroke-dasharray="9.36 8.92"/>
<path d="M511.2 135.5L511.4 135.0L511.7 134.5L511.9 133.9L512.1 133.4L512.4 132.8L512.6 132.2L512.8 131.6L512.9 131.1L513.1 130.7L513.3 130.2L513.4 129.8L513.6 129.3L513.7 128.8L513.9 128.3L514.0 127.9L514.1 127.4L514.2 126.9L514.3 126.4L514.5 125.9L514.6 125.4L514.7 124.9L514.8 124.4L514.9 123.9L515.0 123.4L515.1 123.0L515.2 122.5L515.3 122.0L515.4 121.5L515.5 121.0L515.7 120.5L515.8 120.0L515.9 119.5L516.0 119.0L516.1 118.5L516.3 118.1L516.4 117.6L516.6 117.1L516.7 116.6L516.9 116.2L517.1 115.7L517.2 115.2L517.4 114.8L517.6 114.3L517.8 113.8L518.0 113.4L518.2 112.9L518.4 112.5L518.6 112.0L518.8 111.5L519.0 111.1L519.2 110.6L519.4 110.1L519.6 109.7L519.8 109.2L519.9 108.8L520.1 108.3L520.3 107.8L520.4 107.3L520.6 106.8L520.7 106.4L520.8 105.9L521.0 105.4L521.1 104.9L521.2 104.4L521.3 103.9L521.4 103.4L521.6 102.9L521.7 102.4L521.9 101.9L522.0 101.4L522.2 101.0L522.3 100.5L522.5 100.1L522.7 99.7L522.9 99.2L523.2 98.8L523.6 98.3L524.0 97.8L524.4 97.4L524.7 97.0L525.1 96.7L525.4 96.6L525.7 96.6L525.9 96.8L526.2 97.1L526.4 97.4L526.7 97.9L526.9 98.4L527.1 98.9L527.3 99.5L527.5 100.1L527.7 100.7L527.8 101.3L528.0 101.9L528.2 102.4L528.3 102.8L528.4 103.3L528.6 103.8L528.7 104.3L528.8 104.7L529.0 105.2L529.1 105.7L529.2 106.2L529.3 106.7L529.4 107.2L529.5 107.7L529.6 108.2L529.7 108.7L529.8 109.2L529.9 109.6L530.0 110.1L530.1 110.6L530.2 111.1L530.3 111.6L530.4 112.1L530.5 112.6L530.6 113.1L530.7 113.6L530.8 114.1L530.9 114.6L531.0 115.1L531.1 115.6L531.2 116.0L531.3 116.5L531.4 117.0L531.5 117.5L531.7 118.0L531.8 118.5L531.9 119.0L532.0 119.5L532.1 120.0L532.2 120.4L532.3 120.9L532.4 121.4L532.4 121.9L532.5 122.4L532.6 122.9L532.6 123.4L532.7 123.9L532.7 124.4L532.7 124.9L532.8 125.4L532.8 125.9L532.9 126.4L532.9 126.9L532.9 127.4L532.9 127.9L533.0 128.4L533.0 128.9L533.0 129.4L533.1 129.9L533.1 130.4L533.1 130.9L533.1 131.4L533.1 131.9L533.2 132.4L533.2 132.9L533.2 133.4L533.2 133.9L533.3 134.4L533.3 134.9L533.3 135.4L533.3 135.9L533.4 136.4L533.4 136.9L533.4 137.4L533.4 137.9L533.5 138.4L533.5 138.9L533.5 139.4L533.5 139.9L533.6 140.4L533.6 140.9L533.6 141.4L533.6 141.9L533.6 142.4L533.7 142.9L533.7 143.4L533.7 143.9L533.7 144.4L533.7 144.9L533.8 145.4L533.8 145.9L533.8 146.4L533.8 146.9L533.9 147.4L533.9 147.9L533.9 148.4L533.9 148.9L534.0 149.4L534.0 149.9L534.0 150.4L534.0 150.9L534.1 151.4L534.1 151.9L534.1 152.4L534.2 152.9L534.2 153.4L534.2 153.9L534.3 154.4L534.3 154.9L534.3 155.4L534.4 155.9L534.4 156.4L534.4 156.9L534.5 157.4L534.5 157.9L534.6 158.4L534.6 158.8L534.6 159.3L534.7 159.8L534.7 160.3L534.7 160.8L534.8 161.3L534.8 161.8L534.8 162.3L534.9 162.8L534.9 163.3L534.9 163.8L535.0 164.3L535.0 164.8L535.0 165.3L535.0 165.8L535.1 166.3L535.1 166.8L535.1 167.3L535.2 167.8L535.2 168.3L535.2 168.8L535.2 169.3L535.3 169.8L535.3 170.3L535.3 170.8L535.3 171.3L535.4 171.8L535.4 172.3L535.4 172.8L535.5 173.3L535.5 173.8L535.5 174.3L535.5 174.8L535.6 175.3L535.6 175.8L535.6 176.3L535.6 176.8L535.7 177.3L535.7 177.8L535.7 178.3L535.7 178.8L535.7 179.3L535.8 179.8L535.8 180.3L535.8 180.8L535.8 181.3L535.9 181.8L535.9 182.3L535.9 182.8L535.9 183.3L535.9 183.8L536.0 184.3L536.0 184.8L536.0 185.3L536.0 185.8L536.1 186.4L536.1 186.9L536.1 187.5L536.1 188.1L536.1 188.7L536.1 189.3L536.2 189.9L536.2 190.5L536.2 191.1L536.2 191.8L536.2 192.4L536.2 193.1L536.2 193.7L536.3 194.4L536.3 195.0L536.3 195.7L536.3 196.4L536.3 197.0L536.3 197.7L536.3 198.4L536.4 199.0L536.4 199.7L536.4 200.3L536.4 201.0L536.4 201.6L536.4 202.3L536.4 202.9L536.5 203.5L536.5 204.1L536.5 204.7L536.5 205.3L536.5 205.8L536.5 206.4L536.5 206.9L536.6 207.4L536.6 208.0L536.6 208.4L536.6 208.9L536.6 209.3L536.6 209.8L536.7 210.2L536.7 210.6L536.7 210.9L536.7 211.2L536.8 211.6L536.8 211.8L536.8 212.1L536.8 212.3L536.8 212.5L536.9 212.7L536.9 212.8L536.9 212.9L537.0 213.0L537.0 213.0L537.0 213.0L537.1 212.9L537.1 212.6L537.2 212.3L537.2 211.9L537.3 211.4L537.4 210.9L537.4 210.3L537.5 209.7L537.6 209.0L537.7 208.4L537.7 207.7L537.8 207.0L537.9 206.4L537.9 205.8L538.0 205.3L538.0 204.8L538.1 204.3L538.1 203.8L538.1 203.3L538.2 202.8L538.2 202.3L538.2 201.8L538.3 201.3L538.3 200.8L538.4 200.3L538.4 199.8L538.4 199.3L538.4 198.8L538.5 198.3L538.5 197.8L538.5 197.3L538.6 196.8L538.6 196.3L538.6 195.8L538.7 195.3L538.7 194.8L538.7 194.3L538.7 193.8L538.8 193.3L538.8 192.8L538.8 192.3L538.8 191.8L538.9 191.3L538.9 190.8L538.9 190.3L538.9 189.8L538.9 189.3L539.0 188.8L539.0 188.3L539.0 187.8L539.0 187.3L539.1 186.8L539.1 186.3L539.1 185.8L539.1 185.3L539.1 184.8L539.1 184.3L539.2 183.8L539.2 183.3L539.2 182.8L539.2 182.3L539.2 181.8L539.2 181.3L539.3 180.8L539.3 180.3L539.3 179.8L539.3 179.3L539.3 178.8L539.3 178.3L539.4 177.8L539.4 177.3L539.4 176.8L539.4 176.3L539.4 175.8L539.4 175.3L539.4 174.8L539.5 174.3L539.5 173.8L539.5 173.3L539.5 172.8L539.5 172.3L539.5 171.8L539.6 171.3L539.6 170.8L539.6 170.3L539.6 169.8L539.6 169.3L539.7 168.8L539.7 168.3L539.7 167.8L539.7 167.3L539.8 166.8L539.8 166.3L539.8 165.8L539.8 165.3L539.9 164.8L539.9 164.3L539.9 163.8L540.0 163.3L540.0 162.8L540.0 162.3L540.1 161.8L540.1 161.3L540.1 160.8L540.2 160.3L540.2 159.8L540.2 159.3L540.3 158.8L540.3 158.3L540.3 157.8L540.4 157.3L540.4 156.8L540.4 156.3L540.5 155.8L540.5 155.3L540.6 154.8L540.6 154.3L540.6 153.8L540.7 153.3L540.7 152.8L540.7 152.3L540.8 151.8L540.8 151.3L540.9 150.8L540.9 150.3L540.9 149.8L541.0 149.3L541.0 148.8L541.1 148.3L541.1 147.8L541.1 147.3L541.2 146.8L541.2 146.3L541.3 145.9L541.3 145.4L541.3 144.9L541.4 144.4L541.4 143.9L541.5 143.4L541.5 142.9L541.5 142.4L541.6 141.9L541.6 141.4L541.7 140.9L541.7 140.4L541.8 139.9L541.8 139.4L541.9 138.9L541.9 138.4L541.9 137.9L542.0 137.4L542.0 136.9L542.1 136.4L542.1 135.9L542.2 135.4L542.2 134.9L542.3 134.4L542.3 133.9L542.3 133.4L542.4 132.9L542.4 132.4L542.5 131.9L542.5 131.4L542.6 130.9L542.6 130.4L542.7 129.9L542.7 129.4L542.8 128.9L542.8 128.4L542.9 127.9L542.9 127.4L543.0 126.9L543.0 126.4L543.0 125.9L543.1 125.4L543.1 124.9L543.2 124.4L543.2 123.9L543.3 123.4L543.3 122.9L543.4 122.4L543.4 121.9L543.5 121.4L543.5 120.9L543.6 120.5L543.6 120.0L543.6 119.5L543.7 119.0L543.7 118.5L543.8 118.0L543.8 117.5L543.9 117.0L543.9 116.5L543.9 116.0L544.0 115.5L544.0 115.0L544.1 114.5L544.1 114.0L544.2 113.5L544.2 113.0L544.3 112.5L544.3 112.0L544.3 111.5L544.4 111.0L544.4 110.5L544.5 110.0L544.6 109.5L544.6 109.0L544.7 108.5L544.7 108.0L544.8 107.5L544.9 107.0L544.9 106.5L545.0 106.0L545.1 105.5L545.1 105.0L545.2 104.5L545.3 104.0L545.3 103.5L545.4 103.1L545.5 102.6L545.5 102.1L545.6 101.6L545.7 101.1L545.7 100.6L545.8 100.1L545.9 99.6L545.9 99.1L546.0 98.6L546.0 98.1L546.1 97.6L546.1 97.1L546.2 96.6L546.2 96.1L546.3 95.6L546.3 95.1L546.4 94.6L546.4 94.1L546.5 93.6L546.5 93.1L546.6 92.6L546.7 92.1L546.7 91.6L546.8 91.1L546.9 90.6L547.0 90.1L547.1 89.7L547.2 89.2L547.3 88.7L547.4 88.2L547.5 87.7L547.6 87.2L547.8 86.7L547.9 86.2L548.1 85.7L548.3 85.2L548.4 84.8L548.6 84.3L548.8 83.9L549.1 83.4L549.5 82.9L549.9 82.5L550.2 82.1L550.5 82.0L550.7 82.0L550.9 82.2L551.1 82.4L551.2 82.8L551.4 83.2L551.6 83.6L551.7 84.2L551.8 84.7L552.0 85.3L552.1 86.0L552.2 86.6L552.3 87.2L552.5 87.9L552.6 88.5L552.7 89.0L552.9 89.6L553.0 90.1L553.2 90.6L553.3 91.0L553.5 91.5L553.7 92.0L553.8 92.5L554.0 92.9L554.2 93.4L554.3 93.9L554.5 94.3L554.7 94.8L554.9 95.3L555.0 95.8L555.2 96.2L555.3 96.7L555.5 97.2L555.6 97.7L555.8 98.2L555.9 98.6L556.0 99.1L556.1 99.6L556.2 100.1L556.3 100.6L556.4 101.1L556.5 101.5L556.6 102.0L556.6 102.5L556.7 103.0L556.8 103.5L556.9 104.0L556.9 104.5L557.0 105.0L557.0 105.5L557.1 106.0L557.2 106.5L557.2 107.0L557.3 107.5L557.3 108.0L557.4 108.5L557.5 109.0L557.5 109.5L557.6 110.0L557.7 110.5L557.7 111.0L557.8 111.5L557.9 112.0L557.9 112.5L558.0 113.0L558.1 113.5L558.1 114.0L558.2 114.4L558.3 114.9L558.4 115.4L558.5 115.9L558.5 116.4L558.6 116.9L558.7 117.4L558.8 117.9L558.9 118.4L559.0 118.9L559.0 119.4L559.1 119.9L559.2 120.4L559.3 120.9L559.4 121.4L559.5 121.8L559.6 122.3L559.7 122.9L559.8 123.5L559.9 124.1L560.0 124.8L560.1 125.4L560.2 126.1L560.3 126.7L560.4 127.3L560.5 127.9L560.6 128.4L560.7 128.9L560.8 129.3L560.9 129.6L560.9 129.9L561.0 130.0L561.0 130.0L561.0 130.0L561.1 129.9L561.1 129.7L561.1 129.6L561.2 129.3L561.2 129.1L561.2 128.8L561.2 128.5L561.3 128.1L561.3 127.7L561.3 127.3L561.3 126.9L561.3 126.4L561.4 125.9L561.4 125.4L561.4 124.8L561.4 124.3L561.4 123.7L561.4 123.1L561.4 122.5L561.5 121.9L561.5 121.2L561.5 120.6L561.5 119.9L561.5 119.3L561.5 118.6L561.5 118.0L561.5 117.3L561.6 116.6L561.6 116.0L561.6 115.3L561.6 114.7L561.6 114.0L561.6 113.4L561.7 112.7L561.7 112.1L561.7 111.5L561.7 110.9L561.7 110.4L561.8 109.8L561.8 109.3L561.8 108.8L561.8 108.3L561.9 107.8L561.9 107.3L561.9 106.8L562.0 106.3L562.0 105.8L562.0 105.3L562.1 104.8L562.1 104.3L562.1 103.8L562.2 103.3L562.2 102.8L562.3 102.3L562.3 101.8L562.3 101.3L562.4 100.8L562.4 100.3L562.5 99.8L562.5 99.3L562.5 98.8L562.6 98.3L562.6 97.8L562.6 97.3L562.7 96.8L562.7 96.3L562.7 95.8L562.8 95.3L562.8 94.8L562.8 94.3L562.9 93.8L562.9 93.3L562.9 92.8L563.0 92.3L563.0 91.8L563.0 91.3L563.0 90.8L563.1 90.3L563.1 89.9L563.1 89.4L563.1 88.9L563.2 88.4L563.2 87.9L563.2 87.4L563.2 86.9L563.2 86.4L563.3 85.9L563.3 85.4L563.3 84.9L563.3 84.4L563.4 83.9L563.4 83.4L563.4 82.9L563.5 82.4L563.5 81.9L563.5 81.4L563.5 80.9L563.6 80.4L563.6 79.9L563.6 79.4L563.7 78.9L563.7 78.4L563.7 77.9L563.8 77.4L563.8 76.9L563.8 76.4L563.9 75.9L563.9 75.4L563.9 74.9L564.0 74.4L564.0 73.9L564.1 73.4L564.1 72.9L564.1 72.4L564.2 71.9L564.2 71.4L564.3 70.9L564.3 70.4L564.4 69.9L564.5 69.4L564.5 68.9L564.6 68.4L564.7 67.9L564.8 67.4L564.9 66.9L565.0 66.4L565.1 65.9L565.2 65.4L565.3 64.9L565.5 64.5L565.6 64.0L565.8 63.5L566.0 63.1L566.2 62.6L566.5 62.0L566.8 61.5L567.1 61.1L567.3 61.0L567.5 61.1L567.6 61.4L567.8 61.8L567.9 62.3L568.0 62.8L568.1 63.4L568.2 64.1L568.3 64.7L568.4 65.3L568.5 65.9L568.6 66.4L568.7 66.9L568.7 67.4L568.8 67.9L568.9 68.4L569.0 68.9L569.0 69.3L569.1 69.8L569.2 70.3L569.2 70.8L569.3 71.3L569.3 71.8L569.4 72.3L569.5 72.8L569.5 73.3L569.6 73.8L569.6 74.3L569.7 74.8L569.8 75.3L569.8 75.8L569.9 76.3L570.0 76.8L570.1 77.3L570.2 77.8L570.2 78.3L570.3 78.8L570.4 79.3L570.5 79.8L570.6 80.3L570.7 80.8L570.8 81.3L570.9 81.8L571.0 82.3L571.1 82.7L571.3 83.2L571.4 83.7L571.5 84.2L571.7 84.7L571.8 85.1L572.0 85.6L572.3 86.1L572.7 86.6L572.9 87.0L573.0 87.0L573.1 86.9L573.1 86.9L573.1 86.7L573.2 86.6L573.2 86.4L573.3 86.1L573.3 85.8L573.3 85.5L573.3 85.2L573.4 84.8L573.4 84.4L573.4 83.9L573.5 83.5L573.5 83.0L573.5 82.5L573.5 82.0L573.5 81.4L573.6 80.9L573.6 80.3L573.6 79.7L573.6 79.1L573.6 78.4L573.6 77.8L573.6 77.2L573.7 76.5L573.7 75.8L573.7 75.2L573.7 74.5L573.7 73.9L573.7 73.2L573.7 72.5L573.7 71.9L573.7 71.2L573.7 70.6L573.7 69.9L573.7 69.3L573.8 68.7L573.8 68.1L573.8 67.5L573.8 66.9L573.8 66.3L573.8 65.8L573.8 65.3L573.8 64.8L573.8 64.3L573.8 63.8L573.8 63.3L573.8 62.8L573.8 62.3L573.8 61.8L573.8 61.3L573.9 60.8L573.9 60.3L573.9 59.8L573.9 59.3L573.9 58.8L573.9 58.3L573.9 57.8L573.9 57.3L573.9 56.8L573.9 56.3L573.9 55.8L573.9 55.3L573.9 54.8L573.9 54.3L573.9 53.8L573.9 53.3L573.9 52.8L573.9 52.3L573.9 51.8L573.9 51.3L573.9 50.8L573.9 50.3L573.9 49.8L573.9 49.3L573.9 48.8L574.0 48.3L574.0 47.8L574.0 47.3L574.0 46.8L574.0 46.3L574.0 45.8L574.0 45.3L574.0 44.8L574.0 44.3L574.0 43.8L574.0 43.2L574.1 42.7L574.1 42.2L574.1 41.7L574.1 41.2L574.1 40.7L574.2 40.2L574.2 39.7L574.2 39.2L574.2 38.7L574.3 38.2L574.3 37.7L574.3 37.2L574.4 36.7L574.4 36.2L574.4 35.8L574.5 35.3L574.5 34.8L574.6 34.3L574.6 33.8L574.7 33.3L574.8 32.8L574.9 32.3L575.0 31.8L575.2 31.3L575.3 30.8L575.4 30.3L575.6 29.8L575.7 29.3L575.9 28.8L576.1 28.4L576.2 27.9L576.4 27.4L576.6 27.0L576.8 26.5L577.0 26.1L577.2 25.7L577.4 25.2L577.6 24.8L577.8 24.3L578.1 23.9L578.4 23.5L578.7 23.0L579.0 22.6L579.3 22.2L579.6 21.8L580.0 21.4L580.3 21.0L580.7 20.6L581.0 20.2L581.4 19.9L581.7 19.5L582.1 19.2L582.5 18.9L582.8 18.6L583.2 18.3L583.6 18.1L584.0 17.8L584.4 17.6L584.9 17.3L585.3 17.1L585.8 16.9L586.2 16.7L586.7 16.5L587.2 16.3L587.6 16.1L588.1 15.9L588.6 15.7L589.1 15.5L589.6 15.3L590.0 15.1L590.5 15.0L591.0 14.8" fill="none" stroke="#D95319" stroke-width="3.6" stroke-linejoin="round" stroke-dasharray="10.21 9.73"/>
<path d="M591.0 14.8L591.4 14.6L591.9 14.5L592.4 14.3L592.9 14.1L593.3 14.0L593.8 13.8L594.3 13.7L594.8 13.5L595.3 13.4L595.7 13.2L596.2 13.1L596.7 12.9L597.2 12.8L597.7 12.7L598.2 12.6L598.6 12.5L599.1 12.3L599.6 12.3L600.1 12.2L600.6 12.1L601.1 12.0L601.6 11.9L602.1 11.9L602.6 11.8L603.1 11.8L603.6 11.7L604.1 11.6L604.6 11.6L605.1 11.5L605.6 11.5L606.1 11.5L606.6 11.4L607.1 11.4L607.6 11.3L608.1 11.3L608.6 11.2L609.1 11.2L609.6 11.1L610.1 11.1L610.5 11.0L611.0 11.0L611.5 10.9L612.0 10.9L612.5 10.8L613.0 10.7L613.5 10.7L614.0 10.6L614.5 10.5L615.0 10.5L615.5 10.4L616.0 10.3L616.5 10.3L617.0 10.2L617.5 10.2L618.0 10.1L618.5 10.1L619.0 10.0L619.5 10.0L620.0 10.0L620.5 10.0L621.0 10.0L621.5 10.0L622.0 10.0L622.5 10.0L623.0 9.9L623.5 9.9L624.0 9.9L624.5 9.9L625.0 9.9L625.5 9.9L626.0 9.9L626.5 9.9L627.0 9.9L627.5 9.9L628.0 9.9L628.5 9.9L629.0 9.9L629.5 9.9L630.0 9.8L630.5 9.8L631.0 9.8L631.5 9.8L632.0 9.8L632.5 9.8L633.0 9.8L633.5 9.8L634.0 9.8L634.5 9.8L635.0 9.8L635.5 9.8L636.0 9.8L636.5 9.8L637.0 9.8L637.5 9.8L638.0 9.8L638.5 9.8L639.0 9.8L639.5 9.8L640.0 9.8L640.5 9.8L641.0 9.8L641.5 9.8L642.0 9.8L642.5 9.8L643.0 9.7L643.5 9.7L644.0 9.7L644.5 9.7L645.0 9.7L645.5 9.7L646.0 9.7L646.5 9.7L647.0 9.7L647.5 9.7L648.0 9.7L648.5 9.7L649.0 9.7L649.5 9.7L650.0 9.7L650.5 9.7L651.0 9.7L651.5 9.7L652.0 9.7L652.5 9.7L653.0 9.7L653.5 9.7L654.0 9.7L654.5 9.7L655.0 9.7L655.5 9.7L656.0 9.7L656.5 9.6L657.0 9.6L657.5 9.6L658.0 9.6L658.5 9.6L659.0 9.6L659.5 9.6L660.0 9.6L660.5 9.6L661.0 9.6L661.5 9.6L662.0 9.6L662.5 9.6L663.0 9.6L663.5 9.6L664.0 9.6L664.5 9.6L665.0 9.6L665.5 9.6L666.0 9.6L666.5 9.6L667.0 9.6L667.5 9.6L668.0 9.6L668.5 9.6L669.0 9.6L669.5 9.6L670.0 9.6L670.5 9.6L671.0 9.6L671.5 9.5L672.0 9.5L672.5 9.5L673.0 9.5L673.5 9.5L674.0 9.5L674.5 9.5L675.0 9.5L675.5 9.5L676.0 9.5L676.5 9.5L677.0 9.5L677.5 9.5L678.0 9.5L678.5 9.5L679.0 9.5L679.5 9.5L680.0 9.5" fill="none" stroke="#D95319" stroke-width="3.6" stroke-linejoin="round" stroke-dasharray="10.29 9.81"/>
<path d="M84.5 103H86.7" stroke="#000" stroke-width="2.4"/>
<path d="M86.7 103H679" stroke="#000" stroke-width="2.4" stroke-dasharray="15.6 7.4 2.6 7.3" fill="none"/>
<path d="M343 319.5H393.6" stroke="#0072BD" stroke-width="5.3"/>
<path d="M343 383.1H393.5" stroke="#D95319" stroke-width="3.6" stroke-dasharray="10.3 9.7"/>
<g font-family="'Liberation Serif',serif" font-weight="bold" font-size="27.8" fill="#000">
<text transform="translate(397.3 329.3) scale(1.077 1)" text-anchor="start">simulated</text>
<text transform="translate(397.3 393.7) scale(1.077 1)" text-anchor="start">measured</text>
</g>
<g font-family="'Liberation Serif',serif" font-weight="bold" font-size="25">
<text transform="translate(249.2 250.0) scale(1.05 1)" text-anchor="start" fill="#FF00FF">3 GHz</text>
<text transform="translate(370.7 237.3) scale(1.05 1)" text-anchor="start" fill="#0000FF">4.3 GHz</text>
</g>
<g stroke="#FF00FF" stroke-width="1.2" fill="#fff">
<path d="M201 242.8H228.4"/><path d="M228.4 236.9L239.2 242.8L228.4 248.7Z"/>
<circle cx="201" cy="242.7" r="5" fill="#000"/>
</g>
<g stroke="#0000FF" stroke-width="1.2" fill="#fff">
<path d="M516 229.3H488.6"/><path d="M488.6 223.6L477 229.4L488.6 235.2Z"/>
<circle cx="516" cy="229" r="5" fill="#000"/>
</g>
</svg></body></html>
